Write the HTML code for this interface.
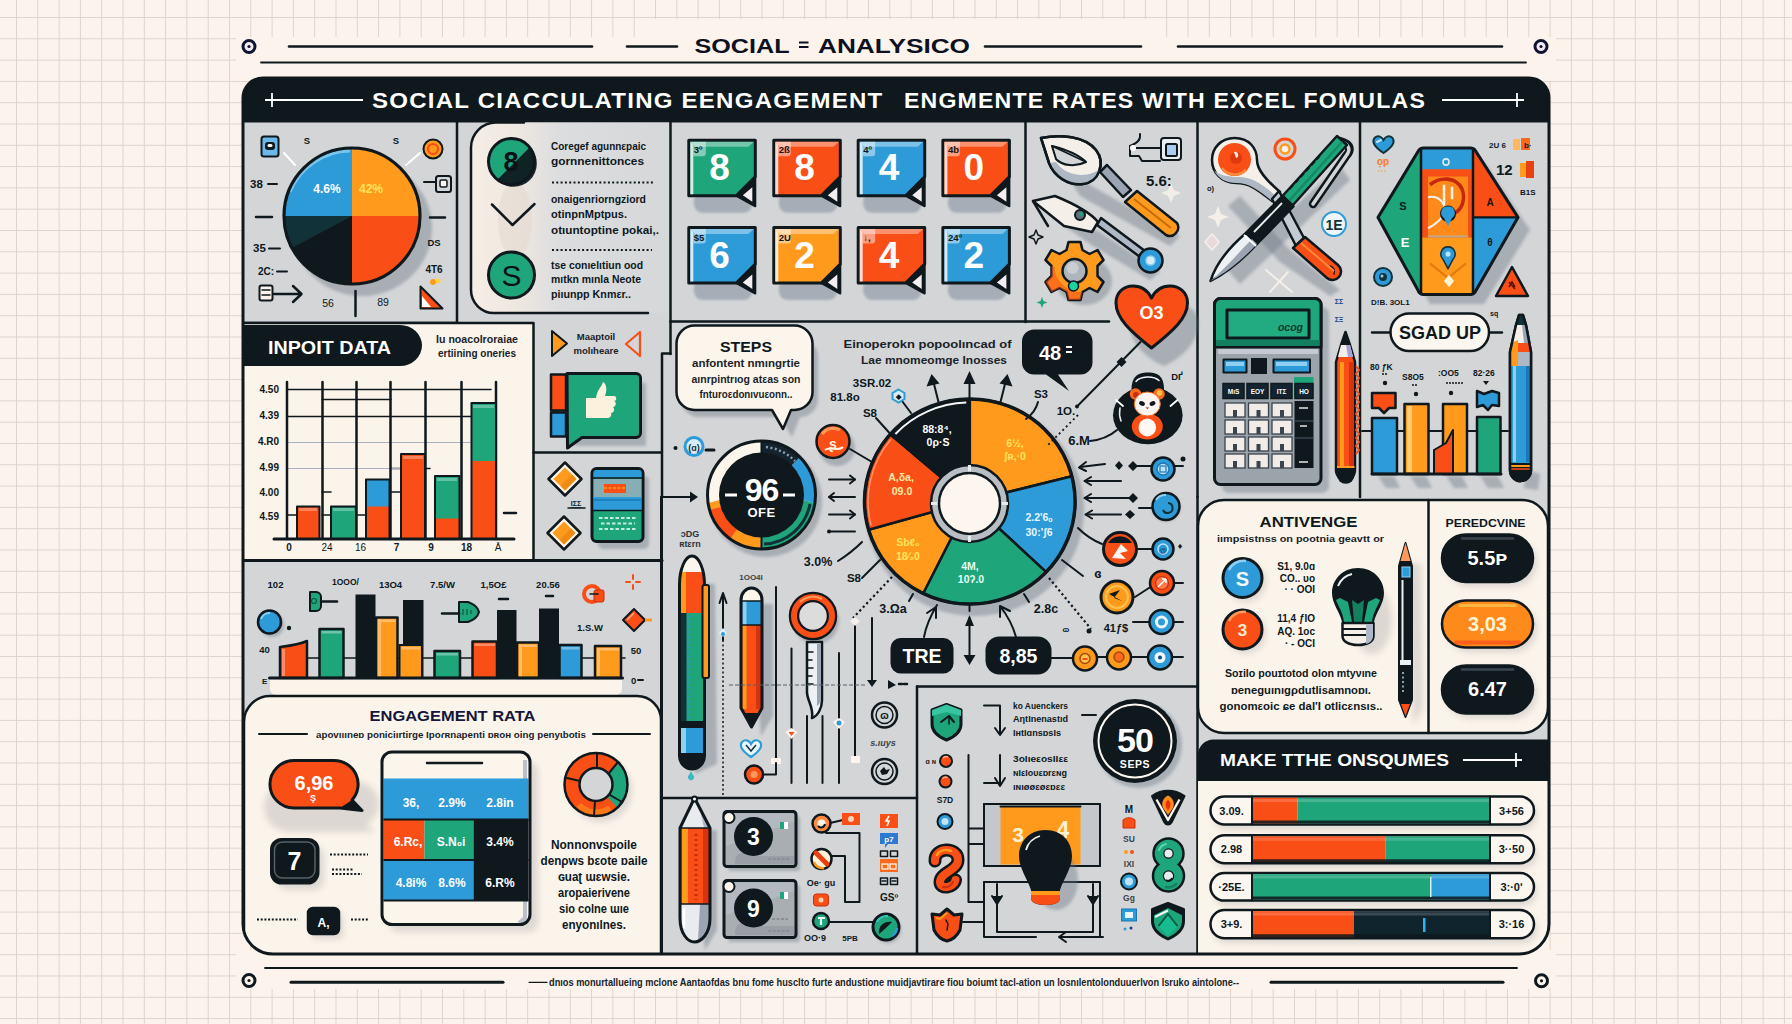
<!DOCTYPE html>
<html lang="en"><head><meta charset="utf-8"><title>Social Analysis - Engagement Rates</title>
<style>
html,body{margin:0;padding:0;background:#fcf4ec;overflow:hidden}
svg{display:block}
text{font-family:"Liberation Sans",sans-serif;fill:#0e181d}
.b{font-weight:700}
.w{fill:#fff}
.m{text-anchor:middle}
.e{text-anchor:end}
.k{stroke:#0e181d;stroke-width:2.5;fill:none;stroke-linecap:round;stroke-linejoin:round}
.k2{stroke:#0e181d;stroke-width:2;fill:none;stroke-linecap:round;stroke-linejoin:round}
.k3{stroke:#0e181d;stroke-width:3;fill:none;stroke-linecap:round;stroke-linejoin:round}
.k15{stroke:#0e181d;stroke-width:1.5;fill:none;stroke-linecap:round;stroke-linejoin:round}
.o{stroke:#0e181d;stroke-width:2.5;stroke-linejoin:round}
.o3{stroke:#0e181d;stroke-width:3;stroke-linejoin:round}
.o2{stroke:#0e181d;stroke-width:2;stroke-linejoin:round}
.sh{fill:#6b7480;opacity:.4}
.shc{fill:#7d7f88;opacity:.24}
.t{font-size:10.5px;font-weight:700;fill:#1a2329}
</style></head><body>
<svg width="1792" height="1024" viewBox="0 0 1792 1024">
<defs>
<pattern id="grid" x="16" y="17" width="21.3" height="21.3" patternUnits="userSpaceOnUse">
<path d="M0.5 0V21.3M0 0.5H21.3" stroke="#dfd2ca" stroke-width="1" fill="none"/>
</pattern>
<filter id="ds" x="-20%" y="-20%" width="150%" height="150%"><feGaussianBlur stdDeviation="1.7"/></filter>
<filter id="ds1" x="-20%" y="-20%" width="150%" height="150%"><feGaussianBlur stdDeviation="1.1"/></filter>
<filter id="ds3" x="-30%" y="-30%" width="170%" height="170%"><feGaussianBlur stdDeviation="3.2"/></filter>
<linearGradient id="listg" x1="0" y1="0" x2="1" y2="0"><stop offset="0" stop-color="#f6eee5"/><stop offset=".22" stop-color="#efe8e1"/><stop offset=".45" stop-color="#dcdddf"/><stop offset="1" stop-color="#d5d7d9"/></linearGradient>
<clipPath id="mainclip"><path d="M243 98a20 20 0 0 1 20-20H1529a20 20 0 0 1 20 20V924a30 30 0 0 1-30 30H273a30 30 0 0 1-30-30Z"/></clipPath>
</defs>
<rect width="1792" height="1024" fill="#fcf4ec"/>
<rect width="1792" height="1024" fill="url(#grid)"/>
<!-- top decoration -->
<rect x="236" y="37" width="1320" height="44" fill="#fcf4ec"/><rect x="640" y="19" width="520" height="20" fill="#fcf4ec"/><rect x="236" y="950" width="1320" height="39" fill="#fcf4ec"/>
<g class="k">
<path d="M289 46.5H592" stroke-width="2.6"/><path d="M627 46.5H677" stroke-width="2.6"/>
<path d="M985 46.5H1141" stroke-width="2.6"/><path d="M1178 46.5H1502" stroke-width="2.6"/>
<path d="M261 62.5H1526" stroke-width="1.8"/>
</g>
<circle cx="249" cy="46.5" r="6" fill="#f3e9f3" stroke="#0e1430" stroke-width="3"/><circle cx="249" cy="46.5" r="1.6" fill="#0e1430"/>
<circle cx="1541" cy="46.5" r="6" fill="#f3e9f3" stroke="#0e1430" stroke-width="3"/><circle cx="1541" cy="46.5" r="1.6" fill="#0e1430"/>
<text x="694.500" y="53" class="b" font-size="20.500" textLength="95" lengthAdjust="spacingAndGlyphs" style="fill:#0d1020">SOCIAL</text><path d="M799 42.500H808.500M799 47H808.500" stroke="#0d1020" stroke-width="2.200"/><text x="818" y="53" class="b" font-size="20.500" textLength="152" lengthAdjust="spacingAndGlyphs" style="fill:#0d1020">ANALYSICO</text>
<!-- main panel -->
<path d="M243 98a20 20 0 0 1 20-20H1529a20 20 0 0 1 20 20V924a30 30 0 0 1-30 30H273a30 30 0 0 1-30-30Z" fill="#d3d5d7"/>
<path d="M243 122.5V98a20 20 0 0 1 20-20H1529a20 20 0 0 1 20 20V122.5Z" fill="#0e181d"/>
<g stroke="#fff" stroke-width="1.8" fill="none"><path d="M265 100H363"/><path d="M272 93V107"/><path d="M1442 100H1524"/><path d="M1517 93V107"/></g>
<text x="372" y="108" class="b w" font-size="21.5" letter-spacing="1.1" textLength="511.5" lengthAdjust="spacingAndGlyphs">SOCIAL CIACCULATING EENGAGEMENT</text>
<text x="904" y="108" class="b w" font-size="21.5" letter-spacing="1.1" textLength="522" lengthAdjust="spacingAndGlyphs">ENGMENTE RATES WITH EXCEL FOMULAS</text>
<g clip-path="url(#mainclip)">
<!-- ===== Section A: pie ===== -->
<ellipse cx="362" cy="228" rx="70" ry="68" class="sh" filter="url(#ds)"/>
<g>
<path d="M352 216V148A68 68 0 0 0 284 216Z" fill="#2d9bd8"/>
<path d="M352 216V148A68 68 0 0 1 420 216Z" fill="#ff9a1c"/>
<path d="M352 216H420A68 68 0 0 1 352 284Z" fill="#fa4e17"/>
<path d="M352 216H284A68 68 0 0 0 352 284Z" fill="#0e181d"/>
<path d="M352 216H284A68 68 0 0 0 292 248Z" fill="#12323a"/>
<path d="M290 192A66 66 0 0 1 350 151" stroke="#8fd0f2" stroke-width="3" fill="none" opacity=".8"/>
<circle cx="352" cy="216" r="68" fill="none" stroke="#0e181d" stroke-width="3.2"/>
</g>
<text x="327" y="193" class="b w m" font-size="12">4.6%</text>
<text x="371" y="193" class="b m" font-size="12" style="fill:#ffe45c">42%</text>
<text x="307" y="144" class="b m" font-size="9.5">S</text><text x="396" y="144" class="b m" font-size="9.5">S</text>
<rect x="261.500" y="136.500" width="17" height="20" rx="2.500" fill="#6db8ea" class="o2"/><rect x="265" y="142" width="10" height="8" rx="3" fill="#0e181d"/><rect x="267.500" y="144" width="5" height="3" rx="1.500" fill="#fff"/>
<path d="M284 153L295 165M406 165L420 153" stroke="#fff" stroke-width="2" fill="none" stroke-linecap="round"/>
<circle cx="433" cy="149" r="9.500" fill="#ff9a1c" class="o2"/><circle cx="433" cy="149" r="5" fill="none" stroke="#fa4e17" stroke-width="2.200"/>
<text x="250" y="188" class="b" font-size="11.500">38</text><path d="M268 184H277" class="k2"/>
<path d="M256 217H272M430 217.500H445" class="k"/>
<path d="M424 182H437" class="k2"/><rect x="436" y="176" width="15" height="16" rx="2.500" fill="#d3d5d7" class="o2"/><rect x="440" y="180" width="7" height="7" rx="1.500" fill="#fcf4ec" stroke="#0e181d" stroke-width="1.500"/>
<text x="253" y="252" class="b" font-size="11.500">35</text><path d="M269 248.500H280" class="k2"/>
<text x="258" y="275" class="b" font-size="10">2C:</text><path d="M277 271.500H287" class="k2"/>
<text x="434" y="246" class="b m" font-size="9.500">DS</text><text x="434" y="273" class="b m" font-size="10">4T6</text>
<circle cx="433" cy="282" r="3" fill="#ff9a1c"/><circle cx="438" cy="281" r="2.500" fill="#ffd23e"/>
<path d="M420.500 286.500V308.500H442.500Z" fill="#fa4e17" class="o2"/><path d="M422 296V307H431Z" fill="#fff"/>
<text x="328" y="307" class="m b" font-size="10.500" style="font-weight:400">56</text><text x="383" y="306" class="m b" font-size="10.500" style="font-weight:400">89</text>
<path d="M355.500 291V316" class="k"/>
<rect x="259.500" y="285.500" width="13" height="15" rx="2" fill="#fcf4ec" class="o2"/><path d="M262 290H270M262 295H270" class="k15"/>
<path d="M274 294H301M293 286L301.500 294L293 302" class="k"/>
<!-- dividers top row -->
<g class="k"><path d="M457 122V322"/><path d="M243 323H457"/><path d="M670.500 122V354"/><path d="M1025.500 122V322"/><path d="M1197.500 122V497"/><path d="M1360 122V497"/><path d="M670.500 321.500H1109"/></g>
<!-- ===== Section B: list ===== -->
<path d="M669 122.500H496a25 25 0 0 0-25 25V290a23 23 0 0 0 23 23H669Z" fill="url(#listg)"/>
<path d="M524 122.500H496a25 25 0 0 0-25 25V290a23 23 0 0 0 23 23H648" class="k"/>
<ellipse cx="515" cy="220" rx="17" ry="38" fill="#e6dcd3" opacity=".7"/>
<circle cx="511.500" cy="161.500" r="23" fill="#1fa57a" class="o3"/>
<path d="M530 147A23 23 0 0 1 497 180Z" fill="#0e181d" opacity=".92"/>
<text x="511" y="171" class="b m" font-size="27" style="fill:#0a1216">8</text>
<path d="M492 204.500L512.500 225L534.500 204" class="k"/>
<circle cx="511.500" cy="275" r="23" fill="#1fa57a" class="o3"/>
<text x="511.500" y="286" class="b m" font-size="30" style="fill:#0a1216;font-weight:400">S</text>
<g class="t">
<text x="551" y="150" textLength="95" lengthAdjust="spacingAndGlyphs">Coregef agunnεpaic</text>
<text x="551" y="165" textLength="93" lengthAdjust="spacingAndGlyphs">gornnenittonces</text>
<text x="551" y="202.500" textLength="95" lengthAdjust="spacingAndGlyphs">onaigenriorngziord</text>
<text x="551" y="218" textLength="76" lengthAdjust="spacingAndGlyphs">otinpnМptpus.</text>
<text x="551" y="233.500" textLength="108" lengthAdjust="spacingAndGlyphs">otιuntoptine pokai,.</text>
<text x="551" y="268.500" textLength="92" lengthAdjust="spacingAndGlyphs">tse conıelιtiun ood</text>
<text x="551" y="283" textLength="90" lengthAdjust="spacingAndGlyphs">mıtkn mınla Neote</text>
<text x="551" y="298" textLength="80" lengthAdjust="spacingAndGlyphs">piıunpp Knmεr..</text>
</g>
<path d="M552 182.500H654M552 250H652" stroke="#0e181d" stroke-width="2.200" stroke-dasharray="2 2.300" fill="none"/>
</g>
<g clip-path="url(#mainclip)">
<!-- ===== Section C: tiles ===== -->
<rect x="693.8" y="191.8" width="58.5" height="21" rx="9" fill="#8d96a3" opacity=".62" filter="url(#ds1)"/>
<g transform="translate(688.8 140.2)"><path d="M0 0H66.5V36.6L47.5 55.6H0Z" fill="#1fa57a" class="o3"/><path d="M1.5 1.5H65.0L59.5 6.5H6.5Z" fill="#fff" opacity=".38"/><path d="M1.5 1.5V54.1H4.5V4.5Z" fill="#fff" opacity=".8"/><path d="M1.5 1.5H17V13a3 3 0 0 1-3 3H4.5V4.5Z" fill="#fff" opacity=".45"/><path d="M47.5 55.6L66.5 36.6V66.1Z" fill="#0e181d" class="o2"/><path d="M54.0 55.1L63.5 47.1V61.6Z" fill="#f4eef0"/><text x="30.8" y="40.3" class="b w m" font-size="37">8</text><text x="5" y="13" class="b" font-size="9.5">3º</text></g>
<rect x="778.8" y="191.8" width="58.5" height="21" rx="9" fill="#8d96a3" opacity=".62" filter="url(#ds1)"/>
<g transform="translate(773.8 140.2)"><path d="M0 0H66.5V36.6L47.5 55.6H0Z" fill="#fa4e17" class="o3"/><path d="M1.5 1.5H65.0L59.5 6.5H6.5Z" fill="#fff" opacity=".38"/><path d="M1.5 1.5V54.1H4.5V4.5Z" fill="#fff" opacity=".8"/><path d="M1.5 1.5H17V13a3 3 0 0 1-3 3H4.5V4.5Z" fill="#fff" opacity=".45"/><path d="M47.5 55.6L66.5 36.6V66.1Z" fill="#0e181d" class="o2"/><path d="M54.0 55.1L63.5 47.1V61.6Z" fill="#f4eef0"/><text x="30.8" y="40.3" class="b w m" font-size="37">8</text><text x="5" y="13" class="b" font-size="9.5">2ß</text></g>
<rect x="863.2" y="191.8" width="58.5" height="21" rx="9" fill="#8d96a3" opacity=".62" filter="url(#ds1)"/>
<g transform="translate(858.2 140.2)"><path d="M0 0H66.5V36.6L47.5 55.6H0Z" fill="#2d9bd8" class="o3"/><path d="M1.5 1.5H65.0L59.5 6.5H6.5Z" fill="#fff" opacity=".38"/><path d="M1.5 1.5V54.1H4.5V4.5Z" fill="#fff" opacity=".8"/><path d="M1.5 1.5H17V13a3 3 0 0 1-3 3H4.5V4.5Z" fill="#fff" opacity=".45"/><path d="M47.5 55.6L66.5 36.6V66.1Z" fill="#0e181d" class="o2"/><path d="M54.0 55.1L63.5 47.1V61.6Z" fill="#f4eef0"/><text x="30.8" y="40.3" class="b w m" font-size="37">4</text><text x="5" y="13" class="b" font-size="9.5">4º</text></g>
<rect x="947.9" y="191.8" width="58.5" height="21" rx="9" fill="#8d96a3" opacity=".62" filter="url(#ds1)"/>
<g transform="translate(942.9 140.2)"><path d="M0 0H66.5V36.6L47.5 55.6H0Z" fill="#fa4e17" class="o3"/><path d="M1.5 1.5H65.0L59.5 6.5H6.5Z" fill="#fff" opacity=".38"/><path d="M1.5 1.5V54.1H4.5V4.5Z" fill="#fff" opacity=".8"/><path d="M1.5 1.5H17V13a3 3 0 0 1-3 3H4.5V4.5Z" fill="#fff" opacity=".45"/><path d="M47.5 55.6L66.5 36.6V66.1Z" fill="#0e181d" class="o2"/><path d="M54.0 55.1L63.5 47.1V61.6Z" fill="#f4eef0"/><text x="30.8" y="40.3" class="b w m" font-size="37">0</text><text x="5" y="13" class="b" font-size="9.5">4b</text></g>
<rect x="693.8" y="279.1" width="58.5" height="21" rx="9" fill="#8d96a3" opacity=".62" filter="url(#ds1)"/>
<g transform="translate(688.8 227.5)"><path d="M0 0H66.5V36.6L47.5 55.6H0Z" fill="#2d9bd8" class="o3"/><path d="M1.5 1.5H65.0L59.5 6.5H6.5Z" fill="#fff" opacity=".38"/><path d="M1.5 1.5V54.1H4.5V4.5Z" fill="#fff" opacity=".8"/><path d="M1.5 1.5H17V13a3 3 0 0 1-3 3H4.5V4.5Z" fill="#fff" opacity=".45"/><path d="M47.5 55.6L66.5 36.6V66.1Z" fill="#0e181d" class="o2"/><path d="M54.0 55.1L63.5 47.1V61.6Z" fill="#f4eef0"/><text x="30.8" y="40.3" class="b w m" font-size="37">6</text><text x="5" y="13" class="b" font-size="9.5">$5</text></g>
<rect x="778.8" y="279.1" width="58.5" height="21" rx="9" fill="#8d96a3" opacity=".62" filter="url(#ds1)"/>
<g transform="translate(773.8 227.5)"><path d="M0 0H66.5V36.6L47.5 55.6H0Z" fill="#ff9a1c" class="o3"/><path d="M1.5 1.5H65.0L59.5 6.5H6.5Z" fill="#fff" opacity=".38"/><path d="M1.5 1.5V54.1H4.5V4.5Z" fill="#fff" opacity=".8"/><path d="M1.5 1.5H17V13a3 3 0 0 1-3 3H4.5V4.5Z" fill="#fff" opacity=".45"/><path d="M47.5 55.6L66.5 36.6V66.1Z" fill="#0e181d" class="o2"/><path d="M54.0 55.1L63.5 47.1V61.6Z" fill="#f4eef0"/><text x="30.8" y="40.3" class="b w m" font-size="37">2</text><text x="5" y="13" class="b" font-size="9.5">2U</text></g>
<rect x="863.2" y="279.1" width="58.5" height="21" rx="9" fill="#8d96a3" opacity=".62" filter="url(#ds1)"/>
<g transform="translate(858.2 227.5)"><path d="M0 0H66.5V36.6L47.5 55.6H0Z" fill="#fa4e17" class="o3"/><path d="M1.5 1.5H65.0L59.5 6.5H6.5Z" fill="#fff" opacity=".38"/><path d="M1.5 1.5V54.1H4.5V4.5Z" fill="#fff" opacity=".8"/><path d="M1.5 1.5H17V13a3 3 0 0 1-3 3H4.5V4.5Z" fill="#fff" opacity=".45"/><path d="M47.5 55.6L66.5 36.6V66.1Z" fill="#0e181d" class="o2"/><path d="M54.0 55.1L63.5 47.1V61.6Z" fill="#f4eef0"/><text x="30.8" y="40.3" class="b w m" font-size="37">4</text><text x="5" y="13" class="b" font-size="9.5">&#8595;,</text></g>
<rect x="947.9" y="279.1" width="58.5" height="21" rx="9" fill="#8d96a3" opacity=".62" filter="url(#ds1)"/>
<g transform="translate(942.9 227.5)"><path d="M0 0H66.5V36.6L47.5 55.6H0Z" fill="#2d9bd8" class="o3"/><path d="M1.5 1.5H65.0L59.5 6.5H6.5Z" fill="#fff" opacity=".38"/><path d="M1.5 1.5V54.1H4.5V4.5Z" fill="#fff" opacity=".8"/><path d="M1.5 1.5H17V13a3 3 0 0 1-3 3H4.5V4.5Z" fill="#fff" opacity=".45"/><path d="M47.5 55.6L66.5 36.6V66.1Z" fill="#0e181d" class="o2"/><path d="M54.0 55.1L63.5 47.1V61.6Z" fill="#f4eef0"/><text x="30.8" y="40.3" class="b w m" font-size="37">2</text><text x="5" y="13" class="b" font-size="9.5">24º</text></g>
</g>
<g clip-path="url(#mainclip)">
<!-- ===== Section D: tools ===== -->
<!-- shadows -->
<path d="M1052 150L1090 185L1180 236L1170 246L1080 196Z" class="sh" filter="url(#ds)"/>
<path d="M1040 208L1100 232L1160 272L1150 280L1090 244Z" class="sh" filter="url(#ds)"/>
<ellipse cx="1084" cy="281" rx="28" ry="24" class="sh" filter="url(#ds)"/>
<!-- pen tool 1 -->
<path d="M1100 172L1107 165L1131 190L1123 197Z" fill="#9aa4b2" class="o"/>
<path d="M1125 202L1137 191L1177 223A8.500 8.500 0 0 1 1166 235Z" fill="#ff9a1c" class="o"/>
<path d="M1134 199L1171 228" stroke="#c9690c" stroke-width="2" fill="none"/>
<path d="M1041 138C1060 134 1085 136 1096 150C1106 163 1099 182 1083 184C1068 186 1054 176 1049 163Z" fill="#f4efe9" class="o"/>
<path d="M1049 163C1054 176 1068 186 1083 184C1093 183 1099 176 1100 168C1092 178 1066 178 1056 162Z" fill="#aeb7c4"/>
<path d="M1041 138C1060 134 1085 136 1096 150C1106 163 1099 182 1083 184C1068 186 1054 176 1049 163Z" class="k"/>
<path d="M1052 146C1064 149 1078 154 1086 162C1076 167 1062 166 1056 159Z" fill="#d3d5d7" class="o2"/>
<path d="M1052 146L1086 162" class="k15"/>
<!-- knife tool 2 -->
<path d="M1097 225L1101 218L1145 251L1140 257Z" fill="#aeb7c4" class="o"/>
<path d="M1033 201L1055 196C1072 203 1090 212 1098 222L1092 232L1064 226Z" fill="#f4efe9" class="o"/>
<path d="M1033 201L1048 226" class="k"/>
<circle cx="1080" cy="215" r="5" fill="#5c6f7b" class="o2"/><circle cx="1081" cy="214" r="2" fill="#1fa57a"/>
<circle cx="1150.500" cy="260.500" r="12" fill="#2d9bd8" class="o"/><circle cx="1150.500" cy="260.500" r="4.500" fill="#d8ecf8" stroke="#8fd0f2" stroke-width="1.500"/>
<!-- gear -->
<g transform="translate(1074.500 271)">
<path d="M-6-29H6L8-21L15-17L23-21L29-11L23-5V5L29 11L23 21L15 17L8 21L6 29H-6L-8 21L-15 17L-23 21L-29 11L-23 5V-5L-29-11L-23-21L-15-17L-8-21Z" fill="#ff9a1c" class="o"/>
<path d="M-23-5V5L-29 11L-23 21L-15 17L-8 21L-6 29H6L8 21C-6 22-20 10-20-4Z" fill="#fa4e17" opacity=".55"/>
<circle r="12" fill="#aeb5bb" class="o"/><circle cx="-2" cy="-3" r="6" fill="#c9ced2"/>
<circle cx="-1" cy="15" r="5" fill="#1fd3a0" stroke="#0e181d" stroke-width="1.500"/>
</g>
<path d="M1036 230l2 5l5 2l-5 2l-2 5l-2-5l-5-2l5-2Z" fill="#d3d5d7" class="k15"/>
<path d="M1042 297l1.500 4l4 1.500l-4 1.500l-1.500 4l-1.500-4l-4-1.500l4-1.500Z" fill="#1fa57a"/>
<path d="M1171 183l3 7l7 3l-7 3l-3 7l-3-7l-7-3l7-3Z" fill="#f4efe9" opacity=".9"/>
<!-- small icon top -->
<path d="M1140 134C1141 142 1134 144 1130 146V156H1139L1142 161H1160M1135 148H1160" class="k2"/>
<circle cx="1133" cy="148" r="3" fill="#fff"/>
<rect x="1161" y="138" width="20" height="22" rx="3" fill="#e9eef4" class="o2"/><rect x="1166" y="144" width="11" height="12" rx="1.500" fill="#a9cdf0" class="o2"/>
<text x="1146" y="186" class="b" font-size="15">5.6:</text>
<!-- heart -->
<path d="M1156 356C1200 336 1196 296 1176 297C1166 297 1160 304 1156 312C1152 304 1144 297 1134 298C1112 300 1118 340 1156 356Z" class="sh" filter="url(#ds)" transform="translate(8 10)"/>
<path d="M1151.500 348C1130 331 1116 318 1116 303C1116 292 1124 286 1133 286C1142 286 1148 291 1151.500 298C1155 291 1161 286 1170 286C1179 286 1187.500 292 1187.500 303C1187.500 318 1173 331 1151.500 348Z" fill="#fa4e17" class="o3"/>
<text x="1151.500" y="319" class="b w m" font-size="18">O3</text>
<!-- ===== Section E: crossing pens ===== -->
<path d="M1226 268L1340 166L1350 180L1240 284Z" class="sh" filter="url(#ds)"/>
<path d="M1240 196L1290 250L1340 290L1330 296L1280 262L1228 206Z" class="sh" filter="url(#ds)"/>
<!-- opener tool (red circle) -->
<path d="M1234.500 138C1249 138 1257 148 1257 160C1257 170 1266 180 1280 192L1272 201C1258 190 1250 183 1236 183C1221 183 1212 172 1212 160C1212 148 1221 138 1234.500 138Z" fill="#f4efe9" class="o"/>
<path d="M1214 170C1218 179 1227 183 1236 183C1250 183 1258 190 1272 201L1276 196C1262 184 1252 177 1238 177C1228 177 1218 175 1214 170Z" fill="#aeb7c4"/>
<circle cx="1234.500" cy="159.500" r="16.500" fill="#fa4e17"/><circle cx="1236" cy="158" r="6" fill="#e0380f"/><path d="M1234 152a3 3 0 1 1 2 6z" fill="#ffe9dc"/><path d="M1222 168A16 16 0 0 0 1246 170" stroke="#ff8a3c" stroke-width="2.500" fill="none"/>
<path d="M1272 199L1279 191L1304 238L1296 246Z" fill="#c4cad2" class="o"/>
<path d="M1293 248L1305 237L1338 265A8.500 8.500 0 0 1 1327 278Z" fill="#fa4e17" class="o"/>
<path d="M1330 266A6 6 0 0 1 1334 274" class="k15"/><path d="M1301 243L1334 271" stroke="#ff8a3c" stroke-width="2" fill="none"/>
<!-- pen green -->
<path d="M1340 141C1352 144 1351 151 1346 156L1313 204" stroke="#0e181d" stroke-width="8.500" stroke-linecap="round" fill="none"/><path d="M1341 142C1351 145 1350 151 1346 156L1313 204" stroke="#d3d5d7" stroke-width="3.500" stroke-linecap="round" fill="none"/>
<path d="M1282.500 196L1337 136L1347 145L1292.500 205.500Z" fill="#1fa57a" class="o"/>
<path d="M1289 201L1342 142" stroke="#128a63" stroke-width="2.500" fill="none"/><path d="M1290 189L1320 156" stroke="#0e181d" stroke-width="1.500" stroke-dasharray="5 3" fill="none"/>
<path d="M1246 233L1282.500 196L1293.500 206.500L1257 244Z" fill="#0e181d" class="o"/><path d="M1254 232L1282 203" stroke="#e9ecef" stroke-width="1.800" fill="none"/>
<path d="M1210.500 281C1216 263 1232 245 1246 233L1257 244C1245 257 1228 272 1210.500 281Z" fill="#eef1f3" class="o"/>
<path d="M1210.500 281C1228 272 1245 257 1257 244L1252 239C1240 251 1226 268 1210.500 281Z" fill="#9aa4b2"/>
<path d="M1244 235L1256 246" stroke="#fff" stroke-width="2"/>
<circle cx="1285" cy="149" r="10" fill="none" stroke="#fa4e17" stroke-width="3"/><circle cx="1285" cy="149" r="4.500" fill="#fcf4ec" stroke="#ff9a1c" stroke-width="2.500"/>
<circle cx="1334" cy="224" r="12" fill="#eef6fb" stroke="#2d9bd8" stroke-width="2"/><text x="1334" y="230" class="b m" font-size="14" style="fill:#12323a">1E</text>
<text x="1207" y="191" class="b" font-size="7.500">o)</text>
<path d="M1218 206l3 8l8 3l-8 3l-3 8l-3-8l-8-3l8-3Z" fill="#f4efe9"/>
<path d="M1212 234l7 8l-7 8l-7-8Z" fill="#ead9dc" stroke="#f4efe9" stroke-width="1.500"/>
<path d="M1266 270L1292 292M1288 272L1270 292" stroke="#f4efe9" stroke-width="2" fill="none" stroke-linecap="round"/>
<!-- calculator -->
<rect x="1222" y="307" width="107" height="186" rx="7" class="sh" filter="url(#ds)"/>
<rect x="1214.500" y="298.500" width="106.500" height="186" rx="6" fill="#9ba3ab" class="o3"/>
<path d="M1214.500 347V304.500a6 6 0 0 1 6-6H1315a6 6 0 0 1 6 6V347Z" fill="#1fa57a" class="o3"/>
<path d="M1216 340H1319.500V346H1216Z" fill="#12805e"/>
<rect x="1227" y="310" width="82" height="28" fill="#22ab80" class="o3"/>
<text x="1303" y="331" class="b e" font-size="10.500" style="font-style:italic;fill:#0c3a2c">ocog</text>
<path d="M1218 349H1318V354H1218Z" fill="#c5cad0"/>
<rect x="1223.500" y="359.500" width="23" height="13" fill="#2d9bd8" class="o2"/><rect x="1226" y="362" width="18" height="4" fill="#8fd0f2"/>
<rect x="1251" y="358" width="16" height="16" fill="#0e181d"/>
<rect x="1273.500" y="359.500" width="36.500" height="13" fill="#2d9bd8" class="o2"/><rect x="1276" y="362" width="31" height="4" fill="#8fd0f2"/>
<path d="M1294 377h19.500V398H1294Z" fill="#1fa57a"/>
<g fill="#142330" stroke="#0e181d" stroke-width="1.500"><rect x="1223" y="383.500" width="21" height="15"/><rect x="1247" y="383.500" width="21" height="15"/><rect x="1271" y="383.500" width="21" height="15"/><rect x="1295" y="383.500" width="18" height="15"/></g>
<g font-size="6.500"><text x="1233.500" y="394" class="b w m">MıS</text><text x="1257.500" y="394" class="b w m">EOY</text><text x="1281.500" y="394" class="b w m">ITΣ</text><text x="1304" y="394" class="b w m">HO</text></g>
<rect x="1294.500" y="401" width="19" height="67" fill="#0e181d"/>
<path d="M1294.500 421H1313M1294.500 438H1313" stroke="#3a4650" stroke-width="1.500"/>
<g stroke="#e9e6e2" stroke-width="1.500"><path d="M1299 408H1308M1300 426H1307M1299 462H1308"/></g>
<g fill="#f1ece8" stroke="#3b444c" stroke-width="1.300">
<rect x="1225" y="403" width="20" height="14"/><rect x="1248.500" y="403" width="20" height="14"/><rect x="1272" y="403" width="20" height="14"/>
<rect x="1225" y="420" width="20" height="14"/><rect x="1248.500" y="420" width="20" height="14"/><rect x="1272" y="420" width="20" height="14"/>
<rect x="1225" y="437" width="20" height="14"/><rect x="1248.500" y="437" width="20" height="14"/><rect x="1272" y="437" width="20" height="14"/>
<rect x="1225" y="454" width="20" height="14"/><rect x="1248.500" y="454" width="20" height="14"/><rect x="1272" y="454" width="20" height="14"/>
</g>
<g fill="#3b444c"><rect x="1233" y="410" width="4" height="7"/><rect x="1256.500" y="410" width="4" height="7"/><rect x="1280" y="410" width="4" height="7"/><rect x="1233" y="427" width="4" height="7"/><rect x="1256.500" y="427" width="4" height="7"/><rect x="1280" y="427" width="4" height="7"/><rect x="1233" y="444" width="4" height="7"/><rect x="1256.500" y="444" width="4" height="7"/><rect x="1280" y="444" width="4" height="7"/><rect x="1233" y="461" width="4" height="7"/><rect x="1256.500" y="461" width="4" height="7"/><rect x="1280" y="461" width="4" height="7"/></g>
<text x="1339" y="304" class="b m" font-size="7" style="fill:#1b3c8c">ΣΣ</text><text x="1339" y="322" class="b m" font-size="7" style="fill:#1b3c8c">ΣΞ</text>
<!-- red pencil -->
<path d="M1341 345L1345.500 332L1350 345L1355 362V470a9.500 10 0 0 1-19 0V362Z" fill="#fa4e17" class="o"/>
<path d="M1341 345L1345.500 332L1350 345Z" fill="#0e181d"/>
<path d="M1341 345H1350L1353 357H1338Z" fill="#f4efe9"/><path d="M1346 345H1350L1353 357H1348Z" fill="#a7a3d8"/>
<path d="M1340 362V466H1344V362Z" fill="#ff9a1c"/><path d="M1349 362V466H1354V362Z" fill="#d8320f"/>
<path d="M1337 467H1354.500V475A8 8 0 0 1 1337 475Z" fill="#0e181d"/><path d="M1337 467H1354.500" stroke="#ff9a1c" stroke-width="2"/>
<path d="M1356 366l3 4l-3 4l3 4l-3 4l3 4l-3 4l3 4l-3 4l3 4l-3 4l3 4l-3 4l3 4l-3 4l3 4l-3 4l3 4l-3 4l3 4l-3 4l3 4l-3 4" stroke="#fa4e17" stroke-width="2" fill="none"/>
</g>
<g clip-path="url(#mainclip)">
<!-- ===== Section F: hexagon ===== -->
<path d="M1388 228L1430 162H1484L1530 230L1484 304H1430Z" class="sh" filter="url(#ds)"/>
<g transform="translate(0 221.250) scale(1 1.035) translate(0 -221.250)"><path d="M1378 217.500L1421 152V291Z" fill="#1fa57a"/>
<path d="M1473 152L1518 217.500H1473Z" fill="#fa4e17"/>
<path d="M1473 217.500H1518L1473 291Z" fill="#2d9bd8"/>
<rect x="1421" y="150.500" width="52" height="21" fill="#2d9bd8"/>
<rect x="1421" y="171" width="52" height="67" fill="#fa4e17"/>
<rect x="1421" y="237" width="52" height="55" fill="#ff9a1c"/>
<path d="M1428 178H1468V236H1428Z" fill="#ff8a1a"/>
<path d="M1430 186C1440 178 1456 178 1462 190C1466 200 1462 210 1454 214" stroke="#c9260e" stroke-width="3.500" fill="none"/>
<path d="M1444 186V206M1452 188V200" stroke="#f4efe9" stroke-width="2.500" fill="none"/>
<path d="M1428 198C1438 196 1444 202 1446 212C1440 222 1432 226 1428 228" stroke="#f4efe9" stroke-width="2" fill="none"/>
<circle cx="1448" cy="214" r="8" fill="#0e181d"/><path d="M1448 207a6 6 0 0 1 4 11l-4 8l-4-8a6 6 0 0 1 4-11Z" fill="#2d9bd8"/>
<path d="M1428 236H1468" stroke="#bfa98a" stroke-width="2"/>
<path d="M1448 246a7 7 0 0 1 5 12l-5 9l-5-9a7 7 0 0 1 5-12Z" fill="#2d9bd8" stroke="#12323a" stroke-width="1.500"/><circle cx="1448" cy="253" r="2.500" fill="#bfe3f6"/>
<path d="M1430 262L1448 276L1466 262" stroke="#e0790e" stroke-width="2" fill="none"/>
<path d="M1449 273l5 6l-5 6l-5-6Z" fill="#fff3d6"/>
<circle cx="1446" cy="164" r="3" fill="none" stroke="#d8ecf8" stroke-width="1.600"/>
<path d="M1421 152V291M1473 152V291" class="k"/><path d="M1473 217.500H1518" class="k2"/>
<path d="M1378 217.500L1418 154a6 6 0 0 1 5-3.500H1471a6 6 0 0 1 5 3.500L1518 217.500L1476 288a6 6 0 0 1-5 4H1423a6 6 0 0 1-5-4Z" class="k3"/>
</g>
<text x="1403" y="210" class="b m" font-size="11">S</text><text x="1405" y="247" class="b w m" font-size="13">E</text>
<text x="1490" y="206" class="b m" font-size="10">A</text><text x="1490" y="246" class="b m" font-size="10">θ</text>
<path d="M1383.500 153c-9-6-12-11-9-15c3-3 7-2 9 2c2-4 6-5 9-2c3 4 0 9-9 15Z" fill="#2d9bd8" stroke="#12323a" stroke-width="2"/><path d="M1377 142l4-2" stroke="#bfe3f6" stroke-width="2" stroke-linecap="round"/>
<text x="1383" y="165" class="b m" font-size="10" style="fill:#ff7a1c">ọp</text><path d="M1378 171h9" stroke="#ff9a1c" stroke-width="1.200" stroke-dasharray="1.500 1.500"/>
<text x="1489" y="148" class="b" font-size="8">2U 6</text><rect x="1513" y="139" width="7" height="11" fill="#ffb65c"/><rect x="1521" y="138" width="9" height="12" fill="#fa6a1c"/><text x="1524" y="148" class="b" font-size="8">b·</text>
<text x="1496" y="175" class="b" font-size="15">12</text><rect x="1520" y="163" width="8" height="14" fill="#ff9a1c"/><rect x="1526" y="161" width="8" height="17" fill="#e8400f"/>
<text x="1520" y="195" class="b" font-size="8">B1S</text>
<circle cx="1383" cy="277" r="9" fill="#2d9bd8" stroke="#12323a" stroke-width="2"/><circle cx="1383" cy="277" r="4" fill="#12323a"/><circle cx="1382" cy="276" r="1.500" fill="#8fd0f2"/>
<path d="M1512 267L1528 296H1496Z" fill="#fa4e17" class="o"/><path d="M1509 287l3-5l3 5M1509 282l6 7" stroke="#5a1405" stroke-width="1.500" fill="none"/>
<text x="1371" y="305" class="b" font-size="8">D!B. 3OL1</text>
<text x="1490" y="316" class="b" font-size="7">sq</text>
<!-- SGAD UP -->
<path d="M1372 332.500H1391M1489 332.500H1502" class="k"/>
<rect x="1390.500" y="313.500" width="98.500" height="37.500" rx="18.700" fill="#fbf6ef" class="o"/>
<text x="1440" y="339" class="b m" font-size="17.500" textLength="82" lengthAdjust="spacingAndGlyphs">SGAD UP</text>
<!-- bar chart -->
<path d="M1378 476L1386 488H1400L1394 476ZM1410 476L1418 488H1432L1426 476ZM1446 476L1454 488H1468L1462 476ZM1480 476L1488 488H1504L1498 476Z" class="sh" filter="url(#ds)"/>
<path d="M1362 431H1508" class="k2"/>
<rect x="1372" y="418" width="25" height="56" fill="#2d9bd8" class="o"/>
<rect x="1404.500" y="404" width="24" height="70" fill="#ff9a1c" class="o"/><rect x="1407" y="406" width="5" height="66" fill="#ffd889" opacity=".8"/>
<rect x="1443" y="404" width="24" height="70" fill="#ff9a1c" class="o"/>
<path d="M1434 474V450L1446 443L1453 430V474Z" fill="#fa4e17" class="o2"/>
<rect x="1477" y="417" width="23.500" height="57" fill="#1fa57a" class="o"/>
<path d="M1372 474H1501" class="k3"/>
<path d="M1372 393H1395.500V408H1389L1384 413L1379 408H1372Z" fill="#fa4e17" class="o"/>
<path d="M1477 391L1484 394L1492 391L1499 393V406L1492 405L1488 410L1483 405L1477 407Z" fill="#2d9bd8" class="o"/>
<g font-size="8.500"><text x="1370" y="370" class="b">80 ƒK</text><text x="1402" y="380" class="b">S8O5</text><text x="1438" y="376" class="b">:OO5</text><text x="1473" y="376" class="b">82·26</text></g>
<path d="M1382 374h5M1412 385h6M1446 383h18" stroke="#0e181d" stroke-width="1.500" stroke-dasharray="2 1"/>
<circle cx="1385" cy="383" r="2.200" fill="#0e181d"/><circle cx="1416" cy="394" r="2.200" fill="#0e181d"/><circle cx="1451" cy="393" r="2.200" fill="#0e181d"/><path d="M1483 381h6l-3 4Z" fill="#0e181d"/>
<!-- blue pen -->
<path d="M1526 470L1540 474L1538 490L1524 488Z" class="sh" filter="url(#ds)"/>
<path d="M1516 325L1519 315H1523L1526 325L1531 352V470a10.500 11 0 0 1-21 0V352Z" fill="#2d9bd8" class="o"/>
<path d="M1516 325L1519 315H1523L1526 325Z" fill="#12323a"/>
<path d="M1516 325H1526L1531 352H1511Z" fill="#f4efe9"/><path d="M1522 325H1526L1531 352H1525Z" fill="#9aa4b2"/>
<path d="M1511 343H1531V366H1511Z" fill="#fa4e17"/><path d="M1511 343L1518 340V366H1511Z" fill="#ff9a1c"/><path d="M1518 352H1531V366H1518Z" fill="#aeb7c4"/>
<path d="M1511 366H1531V462H1511Z" fill="#2d9bd8"/><path d="M1526 366H1531V462H1526Z" fill="#1b78b4"/><path d="M1513 366H1516V462H1513Z" fill="#8fd0f2"/>
<path d="M1510.500 463H1531V472A10 10 0 0 1 1510.500 472Z" fill="#0e181d"/><path d="M1511 466H1531" stroke="#ff9a1c" stroke-width="2"/><path d="M1511 469H1531" stroke="#fa4e17" stroke-width="1.500"/>
<path d="M1516 325L1519 315H1523L1526 325L1531 352V470a10.500 11 0 0 1-21 0V352Z" class="k"/>
</g>
<g clip-path="url(#mainclip)">
<!-- ===== INPOIT DATA ===== -->
<rect x="243" y="323" width="290.500" height="237" fill="#fbf4ea"/>
<path d="M243 323H533.500V560" class="k"/><path d="M243 560.500H662" class="k3"/>
<path d="M243 325H400a22 20.500 0 0 1 0 41H243Z" fill="#0e181d"/>
<text x="268" y="354" class="b w" font-size="18.500" textLength="123" lengthAdjust="spacingAndGlyphs">INPOIT DATA</text>
<text x="477" y="343" class="m" font-size="10.500" style="font-weight:700;fill:#1a2329" textLength="82" lengthAdjust="spacingAndGlyphs">Iu noacolroraiae</text>
<text x="477" y="357" class="m" font-size="10.500" style="font-weight:700;fill:#1a2329" textLength="78" lengthAdjust="spacingAndGlyphs">ertiining oneries</text>
<!-- grid -->
<g class="k15"><path d="M287 389.500H491M322 399.500H391M287 416.500H496M391 468.500H400M426 468.500H430M322 492H331M391 492H425M287 515H300M322 515H331M356 515H366"/></g>
<path d="M287 442.500H496M287 468.500H400" stroke="#aab0c4" stroke-width="1" fill="none"/>
<g class="k"><path d="M287 382V539M322.500 382V539M356.500 382V539M390.500 382V539M425.500 382V539M461.500 382V539M496 382V539"/></g>
<!-- bars -->
<rect x="297" y="506.500" width="22.500" height="32.500" fill="#fa4e17" class="o2"/>
<rect x="331" y="506.500" width="25" height="32.500" fill="#1fa57a" class="o2"/>
<rect x="366" y="479.500" width="23.500" height="59.500" fill="#fa4e17"/><rect x="366" y="479.500" width="23.500" height="27" fill="#2d9bd8"/><rect x="366" y="479.500" width="23.500" height="59.500" class="k2"/>
<rect x="401" y="454" width="24" height="85" fill="#fa4e17" class="o2"/>
<rect x="435" y="476" width="24.500" height="63" fill="#1fa57a"/><rect x="435" y="518.500" width="24.500" height="20.500" fill="#fa4e17"/><rect x="435" y="476" width="24.500" height="63" class="k2"/>
<rect x="471.500" y="403" width="24.500" height="136" fill="#1fa57a"/><rect x="471.500" y="461" width="24.500" height="78" fill="#fa4e17"/><rect x="471.500" y="403" width="24.500" height="136" class="k2"/>
<g fill="#fff" opacity=".3"><rect x="299" y="508" width="18" height="3"/><rect x="333" y="508" width="21" height="3"/><rect x="403" y="456" width="20" height="3"/><rect x="437" y="478" width="20" height="3"/><rect x="473" y="405" width="21" height="3"/></g>
<path d="M274 539H514" class="k3"/><path d="M504 513H516" class="k"/>
<g font-size="10"><text x="279" y="392.500" class="b e">4.50</text><text x="279" y="418.500" class="b e">4.39</text><text x="279" y="445" class="b e">4.R0</text><text x="279" y="471" class="b e">4.99</text><text x="279" y="495.500" class="b e">4.00</text><text x="279" y="520" class="b e">4.59</text></g>
<g font-size="10"><text x="289" y="551" class="b m">0</text><text x="327" y="551" class="m">24</text><text x="360.500" y="551" class="m">16</text><text x="396.500" y="551" class="b m">7</text><text x="431" y="551" class="b m">9</text><text x="466.500" y="551" class="b m">18</text><text x="498" y="551" class="m">Ā</text></g>
<!-- ===== middle icons ===== -->
<path d="M533.500 452.500H662M670.500 353.500H662V497" class="k"/>
<path d="M552 331L567 343.500L552 356Z" fill="#ff9a1c" class="o2"/><path d="M640 332L626 344L640 356Z" fill="#d3d5d7" stroke="#fa4e17" stroke-width="2.200" stroke-linejoin="round"/>
<text x="596" y="340" class="m" font-size="9.500" style="font-weight:700;fill:#1a2329">Maaptoil</text><text x="596" y="354" class="m" font-size="9.500" style="font-weight:700;fill:#1a2329">molıheare</text>
<path d="M575 446H646V383H575Z" class="sh" filter="url(#ds)"/>
<rect x="551" y="374.500" width="15" height="36" fill="#fa4e17" class="o"/><rect x="551" y="412.500" width="15" height="24" fill="#2d9bd8" class="o"/>
<path d="M567 373.500H636a4.500 4.500 0 0 1 4.500 4.500V433a4.500 4.500 0 0 1-4.500 4.500H582L567.500 448Z" fill="#1fa57a" class="o3"/>
<path d="M586 398H596C597 390 601 388 603 382C607 384 607 391 605 396H614C617 396 617 401 614 401C617 402 616 407 613 407C615 409 614 413 611 413C612 416 610 418 607 418H586Z" fill="#fbf1dd"/>
<path d="M565 462.500L581.500 479L565 495.500L548.500 479Z" fill="#fff3e2" class="o"/><path d="M565 467.500L576.500 479L565 490.500L553.500 479Z" fill="#ff9a1c"/><path d="M564 516.500L580.500 533L564 549.500L547.500 533Z" fill="#fff3e2" class="o"/><path d="M564 521.500L575.500 533L564 544.500L552.500 533Z" fill="#ff9a1c"/>
<path d="M565 490.500L576.500 479L572 474.500L560.500 486Z" fill="#e8800c" opacity=".6"/><path d="M564 544.500L575.500 533L571 528.500L559.500 540Z" fill="#e8800c" opacity=".6"/>
<text x="576" y="506" class="b m" font-size="7" style="text-decoration:underline">IΣΣ</text><path d="M568 508H585" class="k15" stroke-width="1"/>
<rect x="598" y="476" width="51" height="73" rx="5" class="sh" filter="url(#ds)"/>
<rect x="592" y="468.500" width="51" height="73" rx="4.500" fill="#1fa57a" class="o3"/>
<path d="M593.500 478V473a3 3 0 0 1 3-3H638.500a3 3 0 0 1 3 3V478Z" fill="#2d9bd8"/><path d="M593.500 478H641.500" class="k15"/>
<rect x="593.500" y="479" width="48" height="19" fill="#86aeb4"/><rect x="593.500" y="497" width="48" height="13" fill="#2d9bd8"/><path d="M593.500 500H641.500" stroke="#1b78b4" stroke-width="1.500"/>
<rect x="604" y="484" width="22" height="9" fill="#fa4e17"/><path d="M604 488H626" stroke="#ff9a1c" stroke-width="1.500" stroke-dasharray="3 1.500"/>
<path d="M593.500 510.500H641.500" class="k15"/>
<g stroke="#bfeedd" stroke-width="2.200" stroke-dasharray="3.500 2" fill="none"><path d="M599 518H637M601 523.500H635M599 529H637"/></g>
<!-- ===== bar chart 2 ===== -->
<g font-size="9.500"><text x="275.500" y="588" class="b m">102</text><text x="345.500" y="585" class="b m" font-size="8.500">1OOO/</text><text x="390.500" y="588" class="b m">13O4</text><text x="442.500" y="588" class="b m">7.5/W</text><text x="493.500" y="588" class="b m">1,5O£</text><text x="548" y="588" class="b m">20.56</text><text x="590" y="631" class="b m">1.S.W</text><text x="264.500" y="653" class="b m">40</text><text x="636" y="653.500" class="b m">50</text><text x="631" y="683.500" class="b">0</text><text x="262" y="684" class="b" font-size="8">E</text></g>
<path d="M638 680H643" class="k2"/>
<path d="M306 658H625" class="k15"/>
<g>
<path d="M280 647C288 646 298 645 307 641V678H280Z" fill="#fa4e17" class="o"/>
<rect x="319.500" y="629" width="24" height="49" fill="#1fa57a" class="o"/>
<rect x="355.500" y="594.500" width="20" height="83.500" fill="#0e181d"/>
<rect x="376" y="617.500" width="21.500" height="60.500" fill="#ff9a1c" class="o"/>
<rect x="403" y="600" width="20.500" height="78" fill="#0e181d"/>
<rect x="399.500" y="645" width="22.500" height="33" fill="#ff9a1c" class="o2"/>
<rect x="434.500" y="651" width="25.500" height="27" fill="#1fa57a" class="o"/>
<rect x="472.500" y="641.500" width="24.500" height="36.500" fill="#fa4e17" class="o"/>
<rect x="497" y="610" width="19.500" height="68" fill="#0e181d"/>
<rect x="517" y="642.500" width="22" height="35.500" fill="#ff9a1c" class="o"/>
<rect x="539" y="608.500" width="20" height="69.500" fill="#0e181d"/>
<rect x="559.500" y="645" width="22" height="33" fill="#2d9bd8" class="o"/>
<rect x="595" y="646" width="26" height="32" fill="#ff9a1c" class="o"/>
<g fill="#fff" opacity=".35"><rect x="321.500" y="631" width="20" height="2.500"/><rect x="378" y="619.500" width="17.500" height="2.500"/><rect x="401.500" y="647" width="18.500" height="2.500"/><rect x="436.500" y="653" width="21.500" height="2.500"/><rect x="474.500" y="643.500" width="20.500" height="2.500"/><rect x="519" y="644.500" width="18" height="2.500"/><rect x="561.500" y="647" width="18" height="2.500"/><rect x="597" y="648" width="22" height="2.500"/><rect x="282" y="649" width="3" height="27"/><rect x="378" y="619.500" width="3" height="57"/><rect x="519" y="644.500" width="3" height="32"/><rect x="597" y="648" width="3" height="28"/></g>
</g>
<path d="M270 679.500H622V689C622 693 618 696 610 696H280C274 696 270 693 270 689Z" fill="#fbf4ea"/><path d="M269.500 678H622.500" class="k3"/>
<circle cx="272" cy="625" r="12" class="sh" filter="url(#ds)"/>
<circle cx="269.500" cy="622" r="11.500" fill="#2d9bd8" class="o"/><path d="M261 619A9 9 0 0 1 270 613" stroke="#8fd0f2" stroke-width="2" fill="none"/><circle cx="289" cy="628" r="2.200" fill="#0e181d"/>
<path d="M310 592H316a5 5 0 0 1 5 5V606a5 5 0 0 1-5 5H310Z" fill="#1fa57a" class="o2"/><path d="M321 601.500H337" class="k"/><circle cx="314" cy="601" r="2.500" fill="none" stroke="#0c5a42" stroke-width="1.200"/>
<path d="M459 602H468C474 604 478 608 479 612C478 616 474 620 468 622H459Z" fill="#1fa57a" class="o2"/><path d="M442 613.500H459" class="k"/><path d="M463 609V615M467 609V615M471 610V614" stroke="#0c5a42" stroke-width="1.200"/>
<path d="M499 599H508M546 596H553" class="k" stroke-width="3"/>
<circle cx="592" cy="594" r="8" fill="none" stroke="#fa4e17" stroke-width="4"/><rect x="594" y="590" width="10" height="12" rx="2" fill="#fa4e17" stroke="#c92f0c" stroke-width="1"/><path d="M590 594H598" class="k15"/>
<path d="M634 609L645 620L634 631L623 620Z" fill="#fa4e17" class="o2"/><path d="M645 620H652" stroke="#ff9a1c" stroke-width="3"/><path d="M627 620L634 613" stroke="#ffb08c" stroke-width="1.500"/>
<path d="M633 575v4M633 585v4M626 582h4M636 582h4" stroke="#fa4e17" stroke-width="2" stroke-linecap="round"/>
</g>
<g clip-path="url(#mainclip)">
<!-- ===== ENGAGEMENT RATA ===== -->
<path d="M243 954V722a26 26 0 0 1 26-26H637a24 24 0 0 1 24 24V954Z" fill="#fbf4ea"/>
<path d="M244 930V722a26 26 0 0 1 26-26H637a24 24 0 0 1 24 24V954" class="k"/>
<text x="452.500" y="721" class="b m" font-size="15.500" textLength="166" lengthAdjust="spacingAndGlyphs" style="fill:#14163a">ENGAGEMENT RATA</text>
<path d="M259 734H307M593 734H650" class="k2"/>
<text x="451" y="737.500" class="b m" font-size="9.500" textLength="270" lengthAdjust="spacingAndGlyphs" style="fill:#1a2329">apovıııneɒ poniciırtirge Ipoɾʀnapenti ɒʀoʜ oing penyɩbotis</text>
<!-- red bubble -->
<path d="M283 774H350a22 22 0 0 1 10 42l10 8H283a24 24 0 0 1 0-50Z" class="shc" filter="url(#ds3)" transform="translate(6 8)"/>
<path d="M294 760.500H334a24 23.700 0 0 1 18 39.500L362 810.500L340 808H294a24 23.700 0 0 1 0-47.500Z" fill="#fa4e17" class="o3"/>
<path d="M340 808L352 800L362 810.500Z" fill="#0e181d"/>
<text x="314" y="790" class="b w m" font-size="20">6,96</text><text x="313" y="801" class="b w m" font-size="9">Ş</text>
<!-- 7 -->
<rect x="277" y="846" width="47" height="44" rx="10" class="shc" filter="url(#ds3)"/>
<rect x="271.500" y="839.500" width="46.500" height="43.500" rx="10" fill="#0e181d" stroke="#0e181d" stroke-width="3"/>
<rect x="274.500" y="842" width="40.500" height="36" rx="8" fill="none" stroke="#56626b" stroke-width="1.500"/>
<text x="294.500" y="870" class="b w m" font-size="25">7</text>
<path d="M330 854.500H368M332 869.500H353M332 874H362" stroke="#0e181d" stroke-width="1.800" stroke-dasharray="2 1.700" fill="none"/>
<!-- A -->
<rect x="312" y="913" width="31" height="26" rx="5" class="shc" filter="url(#ds3)"/>
<rect x="308" y="908" width="31" height="26" rx="5" fill="#0e181d" stroke="#0e181d" stroke-width="2.500"/>
<text x="323.500" y="926.500" class="b w m" font-size="12">A,</text>
<path d="M257 919.500H298M351 919.500H369" stroke="#0e181d" stroke-width="1.800" stroke-dasharray="2 1.700" fill="none"/>
<!-- phone -->
<rect x="389" y="762" width="149" height="170" rx="9" class="shc" filter="url(#ds3)"/>
<path d="M392 752H520a10 10 0 0 1 10 10V916L522 924.500H392a10 10 0 0 1-10-10V762a10 10 0 0 1 10-10Z" fill="#fcf5ec"/>
<path d="M525 760V918L519 923" stroke="#b9c0ca" stroke-width="4" fill="none"/>
<path d="M427 763H482" class="k" stroke-width="3"/>
<rect x="383.500" y="778.500" width="145" height="41" fill="#2d9bd8"/>
<rect x="383.500" y="819.500" width="41" height="40.500" fill="#fa4e17"/><rect x="424.500" y="819.500" width="49" height="40.500" fill="#1fa57a"/><rect x="473.500" y="819.500" width="55" height="40.500" fill="#0e181d"/>
<rect x="383.500" y="860" width="90" height="40.500" fill="#2d9bd8"/><rect x="473.500" y="860" width="55" height="40.500" fill="#0e181d"/>
<path d="M383.500 819.500H528.500M383.500 860H528.500M383.500 900.500H528.500" stroke="#0e181d" stroke-width="1.800"/>
<g font-size="12"><text x="411" y="807" class="b w m">36,</text><text x="452" y="807" class="b w m">2.9%</text><text x="500" y="807" class="b w m">2.8in</text>
<text x="408" y="846" class="b w m">6.Rc,</text><text x="451" y="846" class="b w m">S.N₀i</text><text x="500" y="846" class="b w m">3.4%</text>
<text x="411" y="887" class="b w m">4.8i%</text><text x="452" y="887" class="b w m">8.6%</text><text x="500" y="887" class="b w m">6.R%</text></g>
<rect x="382" y="752" width="148" height="172.500" rx="10" class="k3"/>
<!-- donut icon -->
<circle cx="601" cy="791" r="31" class="shc" filter="url(#ds3)"/>
<circle cx="596" cy="784.500" r="24" fill="none" stroke="#fa4e17" stroke-width="15"/>
<path d="M613.500 768A24 24 0 0 1 612 802" fill="none" stroke="#1fa57a" stroke-width="15"/>
<path d="M579 801A24 24 0 0 0 610 804" fill="none" stroke="#ff8a1c" stroke-width="6" transform="translate(0 4)" opacity=".7"/>
<circle cx="596" cy="784.500" r="16.500" fill="#d3d5d7" class="o"/><circle cx="596" cy="784.500" r="31.500" class="k"/>
<path d="M597 753V768M567 778L580 781M618 762L609 773M622 802L610 795M594 816L595 801" class="k2"/>
<!-- text -->
<g font-size="12" style="font-weight:700"><text x="594" y="849" class="m" textLength="86" lengthAdjust="spacingAndGlyphs">Nonnonvspoile</text><text x="594" y="865" class="m" textLength="107" lengthAdjust="spacingAndGlyphs">denρws bεote ɒaile</text><text x="594" y="881" class="m" textLength="72" lengthAdjust="spacingAndGlyphs">ɢuaʈ ɯɛwsie.</text><text x="594" y="897" class="m" textLength="72" lengthAdjust="spacingAndGlyphs">aropaierivene</text><text x="594" y="913" class="m" textLength="70" lengthAdjust="spacingAndGlyphs">sio colne ɯıe</text><text x="594" y="929" class="m" textLength="64" lengthAdjust="spacingAndGlyphs">enyonılnes.</text></g>
</g>
<g clip-path="url(#mainclip)">
<!-- ===== center donut pie ===== -->
<ellipse cx="974.8" cy="509.5" rx="109.3" ry="106.6" class="sh" filter="url(#ds)"/>
<path d="M969.8 501.5L969.8 398.9A105.3 102.6 0 0 1 1071.9 476.3Z" fill="#ff9a1c" stroke="#0e181d" stroke-width="2.5" stroke-linejoin="round"/>
<path d="M969.8 501.5L1071.9 476.3A105.3 102.6 0 0 1 1046.2 572.1Z" fill="#2d9bd8" stroke="#0e181d" stroke-width="2.5" stroke-linejoin="round"/>
<path d="M969.8 501.5L1046.2 572.1A105.3 102.6 0 0 1 923.1 593.5Z" fill="#1fa57a" stroke="#0e181d" stroke-width="2.5" stroke-linejoin="round"/>
<path d="M969.8 501.5L923.1 593.5A105.3 102.6 0 0 1 868.6 529.8Z" fill="#ff9a1c" stroke="#0e181d" stroke-width="2.5" stroke-linejoin="round"/>
<path d="M969.8 501.5L868.6 529.8A105.3 102.6 0 0 1 890.3 434.2Z" fill="#fa4e17" stroke="#0e181d" stroke-width="2.5" stroke-linejoin="round"/>
<path d="M969.8 501.5L890.3 434.2A105.3 102.6 0 0 1 969.8 398.9Z" fill="#0e181d" stroke="#0e181d" stroke-width="2.5" stroke-linejoin="round"/>
<ellipse cx="969.8" cy="501.5" rx="105.3" ry="102.6" fill="none" stroke="#0e181d" stroke-width="3.5"/>
<path d="M895.4 434.0A101.7 99.0 0 0 1 966.3 402.6" stroke="#f4f6f8" stroke-width="2" fill="none"/><path d="M871.1 525.5A101.7 99.0 0 0 1 890.8 439.2" stroke="#ffb08c" stroke-width="1.500" fill="none" opacity=".7"/>
<circle cx="969.5" cy="503.400" r="38.500" fill="#b9bec4" stroke="#0e181d" stroke-width="2.500"/>
<path d="M931 503.400H1008M969.500 465V542" stroke="#e9ecef" stroke-width="3"/>
<circle cx="969.5" cy="503.400" r="30.500" fill="#fcf6ee" stroke="#0e181d" stroke-width="2.500"/>
<!-- pie labels -->
<g font-size="10.500">
<text x="937" y="433" class="b w m">88:8⁴,</text><text x="938" y="446" class="b w m">0ρ·S</text>
<text x="1015" y="447" class="b m" style="fill:#ffe45c">6½,</text><text x="1015" y="460" class="b m" style="fill:#ffe45c">ʃʀ,·0</text>
<text x="901" y="481" class="b m" style="fill:#ffe9a6">A,δa,</text><text x="902" y="495" class="b m" style="fill:#ffe9a6">09.0</text>
<text x="1039" y="521" class="b m" style="fill:#eaf6ff">2.2'6ₒ</text><text x="1039" y="536" class="b m" style="fill:#eaf6ff">30:'ʃ6</text>
<text x="908" y="546" class="b m" style="fill:#ffe45c">Sbℓ₀</text><text x="908" y="560" class="b m" style="fill:#ffe45c">18⁄₂0</text>
<text x="970" y="570" class="b m" style="fill:#e4fff2">4M,</text><text x="971" y="583" class="b m" style="fill:#e4fff2">10ʔ.0</text>
</g>
<!-- STEPS bubble -->
<path d="M695 334H796a18 18 0 0 1 18 18V394a18 18 0 0 1-18 18H796L788 432L776 412H695a18 18 0 0 1-18-18V352a18 18 0 0 1 18-18Z" class="sh" filter="url(#ds)" transform="translate(4 5)"/>
<path d="M694.500 325.500H794.500a18 18 0 0 1 18 18V392a18 18 0 0 1-18 18H791L783 429L772 410H694.500a18 18 0 0 1-18-18V343.500a18 18 0 0 1 18-18Z" fill="#fbf5ec" class="o"/>
<text x="746" y="351.500" class="b m" font-size="15" textLength="52" lengthAdjust="spacingAndGlyphs">STEPS</text>
<text x="746" y="367" class="m t" textLength="108" lengthAdjust="spacingAndGlyphs">anfontent nmıngrtie</text>
<text x="746" y="382.500" class="m t" textLength="109" lengthAdjust="spacingAndGlyphs">aınrpintrıog atεas son</text>
<text x="746" y="397.500" class="m t" textLength="93" lengthAdjust="spacingAndGlyphs">fnturoεdonıvuεonn..</text>
<text x="927.500" y="348" class="m" font-size="11.500" style="font-weight:700;fill:#1a2329" textLength="168" lengthAdjust="spacingAndGlyphs">Einoperokn popoolıncad of</text>
<text x="934" y="364" class="m" font-size="11.500" style="font-weight:700;fill:#1a2329" textLength="146" lengthAdjust="spacingAndGlyphs">Lae mnomeomge Inosses</text>
<!-- 48 bubble -->
<path d="M1034 329.500H1080.500a12 12 0 0 1 12 12V362.500a12 12 0 0 1-12 12H1058L1069 391L1046 374.500H1034a12 12 0 0 1-12-12V341.500a12 12 0 0 1 12-12Z" fill="#0e181d"/>
<text x="1050" y="360" class="b w m" font-size="20">48</text><path d="M1066 347H1072M1066 352H1072" stroke="#fff" stroke-width="2"/>
<!-- gauge -->
<circle cx="766" cy="501" r="56" class="sh" filter="url(#ds)"/>
<circle cx="761.500" cy="495" r="54" fill="#fbf5ec"/>
<path d="M761.500 549A54 54 0 0 1 708 503L720 500A42 42 0 0 0 761.500 537Z" fill="#ff9a1c"/>
<path d="M730 539A54 54 0 0 1 709 510L721 507A42 42 0 0 0 737 529Z" fill="#fa4e17"/>
<path d="M761.500 549A54 54 0 0 0 815 503L803 500A42 42 0 0 1 761.500 537Z" fill="#1fa57a"/>
<path d="M764 544A49 49 0 0 0 810 504" stroke="#12323a" stroke-width="3" fill="none"/>
<path d="M815 503A54 54 0 0 0 800 457L791 466A42 42 0 0 1 803 500Z" fill="#2d9bd8"/>
<path d="M800 457A54 54 0 0 0 761.500 441V453A42 42 0 0 1 791 466Z" fill="#142330"/>
<path d="M766 447A48 48 0 0 1 795 461" stroke="#8fa0ad" stroke-width="2.500" stroke-dasharray="2 2.500" fill="none"/>
<path d="M761.500 441V549" class="k2"/>
<circle cx="761.500" cy="495" r="54" class="k3"/>
<circle cx="761.500" cy="495" r="42.500" fill="#0e181d"/>
<text x="761.500" y="501" class="b w m" font-size="32" letter-spacing="-1">96</text><path d="M725 495H737M783 495H795" stroke="#fff" stroke-width="3"/>
<text x="761.500" y="517" class="b w m" font-size="13" letter-spacing=".5">OFE</text>
<path d="M662 497H694" class="k2"/><path d="M690 491.500L698 497L690 502.500Z" fill="#0e181d"/>
<circle cx="694" cy="446.500" r="9" fill="#d8ecf8" stroke="#2d9bd8" stroke-width="3"/><text x="694" y="450.500" class="b m" font-size="9" style="fill:#12323a">(ɑ)</text>
<circle cx="675.500" cy="448" r="2" fill="#0e181d"/><path d="M706 450H714" class="k3"/>
<text x="690" y="537" class="b m" font-size="9" style="fill:#2a343c">ɔDG</text><text x="690" y="547" class="b m" font-size="9" style="fill:#2a343c">ʀtɛrn</text>
<!-- red circle -->
<circle cx="837" cy="448" r="18" class="sh" filter="url(#ds)"/>
<circle cx="833" cy="441.500" r="16.500" fill="#fa4e17" class="o"/><path d="M822 434A14 14 0 0 1 840 430" stroke="#ff9a5c" stroke-width="3" fill="none"/>
<text x="833" y="449" class="b m" font-size="14" style="fill:#fff3e2">ʂ</text><path d="M825 450C830 446 838 452 843 447" stroke="#fff3e2" stroke-width="2" fill="none"/>
<path d="M850 449L872 462" class="k2"/>
<!-- arrows between gauge and pie -->
<g class="k2"><path d="M829 479.500H855M829 497H855M829 514.500H855M829 531.500H855"/><path d="M850 475.500L855 479.500L850 483.500M834 493L829 497L834 501M850 510.500L855 514.500L850 518.500"/></g>
<circle cx="829" cy="531.500" r="2" fill="#0e181d"/>
<!-- labels around -->
<g font-size="11.500"><text x="872" y="387" class="b m">3SR.02</text><text x="845" y="401" class="b m">81.8o</text><text x="870" y="417" class="b m">S8</text><text x="1041" y="398" class="b m">S3</text><text x="1066" y="415" class="b m">1O.</text><text x="1079" y="445" class="b m" font-size="13">6.M</text><text x="818" y="566" class="b m" font-size="12.500">3.0%</text><text x="854" y="582" class="b m">S8</text><text x="893" y="613" class="b m" font-size="12.500">3.Ωa</text><text x="1046" y="613" class="b m" font-size="12.500">2.8c</text></g>
<g class="k2">
<path d="M938.500 402L933.500 382"/><path d="M969.500 400V380"/><path d="M1000.500 402L1005.500 382"/>
<path d="M876 418L894 438"/><path d="M1038 402C1036 410 1030 416 1026 419"/><path d="M1090 441C1100 440 1110 436 1117 430"/>
<path d="M1140.500 342L1077.500 406"/>
<path d="M838 561C846 556 854 550 862 542"/><path d="M862 578L880 560"/>
<path d="M924 637C926 626 931 615 937 605M927 613L936 607L936 618"/><path d="M1016 637C1013 626 1007 615 1000 606M1000 617L1000 606L1010 611"/><path d="M913 594L909 601M1024 594L1029 602M969.500 605V611"/>
<path d="M1062 560L1083 576"/><path d="M1078 528C1086 536 1092 540 1102 544"/>
</g>
<path d="M926.500 386.500L931.500 374L939.500 383.500ZM963.500 384L969.500 371L975.500 384ZM999.500 383.500L1007.500 374L1012.500 386.500Z" fill="#0e181d"/><path d="M902 401L911 413" class="k2"/><path d="M1078 415L1048 445" stroke="#0e181d" stroke-width="1.800" stroke-dasharray="2 3" fill="none"/>
<path d="M1121.500 357l5 5l-5 5l-5-5Z" fill="#0e181d"/><circle cx="1077" cy="406.500" r="2" fill="#0e181d"/>
<path d="M892 577L853 618M1049 578L1091 629" stroke="#0e181d" stroke-width="2.200" stroke-dasharray="2.200 2.800" fill="none"/><circle cx="1089" cy="631" r="2.500" fill="#0e181d"/><text x="1066" y="632" class="b m" font-size="8">ɷ</text>
<path d="M898.500 389.500L904.500 393V399L898.500 402.500L892.500 399V393Z" fill="#d8ecf8" stroke="#2d9bd8" stroke-width="2"/><text x="898.500" y="398.500" class="b m" font-size="7">&#9670;</text>
<!-- arrows right of pie -->
<g class="k2"><path d="M1080 467L1105 464M1085 481H1121M1085 498H1132M1086 514.500H1121M1132 466H1151M1139 508H1152"/><path d="M1086 462L1079 467.500L1086 471M1091 477L1084.500 481L1091 485M1091 494L1084.500 498L1091 502M1092 510.500L1085.500 514.500L1092 518.500"/></g>
<path d="M1119 461l4 4.500l-4 4.500l-4-4.500ZM1133 461l5 5l-5 5l-5-5ZM1133 493l5 5l-5 5l-5-5ZM1130 510l5 4.500l-5 4.500l-5-4.500Z" fill="#0e181d"/><circle cx="1183" cy="459" r="2.500" fill="#0e181d"/>
<text x="1180" y="549" class="b m" font-size="9">&#9830;</text>
<text x="1098" y="578" class="b m" font-size="13">ɞ</text>
<!-- fox -->
<path d="M1131.500 392C1131 377 1137 372.500 1148 372.500C1159 372.500 1164.500 377 1164 392Z" fill="#0e181d"/>
<path d="M1136 381.500A13 7.500 0 0 1 1159 380.500" stroke="#f4f6f8" stroke-width="1.500" fill="none" stroke-linecap="round"/>
<ellipse cx="1147.800" cy="415.200" rx="34.800" ry="29" fill="#0e181d"/>
<path d="M1116 400L1123 406M1170.500 406L1177.500 400" stroke="#fff" stroke-width="1.800" stroke-linecap="round"/><path d="M1120 408A24 24 0 0 0 1121 421" stroke="#e9ecef" stroke-width="1.500" fill="none" stroke-linecap="round"/>
<circle cx="1135.500" cy="394" r="5.800" fill="#fa6a1c"/><circle cx="1136" cy="395" r="3" fill="#c92f0c"/>
<circle cx="1159" cy="394" r="5.800" fill="#fa6a1c"/><circle cx="1159.500" cy="393" r="2.800" fill="#ffc24c"/>
<ellipse cx="1147.300" cy="426.500" rx="15.500" ry="13" fill="#fa4e17"/><ellipse cx="1147.300" cy="427.500" rx="8.800" ry="9" fill="#fff8f2"/>
<ellipse cx="1147.300" cy="404" rx="13" ry="12" fill="#fff5f0" stroke="#fa6a1c" stroke-width="1"/>
<ellipse cx="1142" cy="403.500" rx="3" ry="2.200" fill="#0e181d" transform="rotate(25 1142 403.500)"/><ellipse cx="1152.500" cy="403.500" rx="3" ry="2.200" fill="#0e181d" transform="rotate(-25 1152.500 403.500)"/>
<path d="M1145.500 407.500h3.500l-1.700 1.600Z" fill="#3a2a2a"/>
<text x="1177" y="380" class="b m" font-size="9.500">D&#1168;</text>
</g>
<g clip-path="url(#mainclip)">
<!-- dividers -->
<g class="k"><path d="M661.500 497V954" stroke-width="3"/><path d="M661.500 798H917"/><path d="M917 686.500V954"/><path d="M917 686.500H1197.500"/><path d="M1197.500 497V954"/></g>
<!-- ===== circle column right of pie ===== -->
<g class="k2"><path d="M1151 466H1183M1132 549H1160M1135 597L1152 586M1150 583H1183M1133 622H1183M1130 657H1183M1095 657H1108"/></g>
<circle cx="1163" cy="469" r="11.500" fill="#2d9bd8" class="o"/><circle cx="1163" cy="469" r="6" fill="#bfe3f6" stroke="#1b78b4" stroke-width="1.500"/><rect x="1160" y="466" width="6" height="6" fill="none" stroke="#1b78b4" stroke-width="1.200"/>
<circle cx="1166" cy="507.500" r="14" class="sh" filter="url(#ds)"/>
<circle cx="1166" cy="506.500" r="13.500" fill="#2d9bd8" class="o"/><path d="M1163 510A5 5 0 1 0 1168 503" stroke="#12323a" stroke-width="2" fill="none"/><path d="M1156 500A11 11 0 0 1 1166 495" stroke="#8fd0f2" stroke-width="2" fill="none"/>
<circle cx="1120" cy="549" r="16.500" fill="#fa4e17" class="o3"/><path d="M1108 543A14 14 0 0 1 1132 543Z" fill="#0e181d"/><path d="M1112 558L1121 544L1128 551L1120 553L1126 559Z" fill="#fff5ee"/>
<circle cx="1163" cy="549" r="10.500" fill="#2d9bd8" class="o"/><circle cx="1163" cy="549" r="5" fill="none" stroke="#bfe3f6" stroke-width="1.500"/><text x="1163" y="552.500" class="b m" font-size="8" style="fill:#0f4a78">@</text>
<circle cx="1162" cy="583" r="12" fill="#fa4e17" class="o"/><circle cx="1162" cy="583" r="6.500" fill="#ff7a4c" stroke="#c92f0c" stroke-width="1.200"/><path d="M1158 587L1166 579M1166 579h-4M1166 579v4" stroke="#fff" stroke-width="1.500" fill="none"/>
<circle cx="1117" cy="597" r="16" fill="#ff9a1c" class="o3"/><circle cx="1117" cy="597" r="11" fill="none" stroke="#ffc24c" stroke-width="2"/><path d="M1109 594L1120 590L1114 598L1122 601Z" fill="#0e181d"/>
<circle cx="1161.500" cy="622" r="12" fill="#2d9bd8" class="o"/><circle cx="1161.500" cy="622" r="5" fill="none" stroke="#eef6fb" stroke-width="3"/>
<text x="1116" y="632" class="b m" font-size="11">41ƒ$</text>
<circle cx="1119" cy="657.500" r="12" fill="#ff9a1c" class="o"/><circle cx="1119" cy="657" r="5" fill="#fa6a1c" stroke="#a84a0a" stroke-width="1.500"/>
<circle cx="1085" cy="658.500" r="12" fill="#ff9a1c" class="o"/><circle cx="1085" cy="658.500" r="5" fill="#ffc24c" stroke="#a84a0a" stroke-width="1.500"/><path d="M1082.500 659h5" stroke="#fa4e17" stroke-width="2"/>
<circle cx="1160" cy="657.500" r="12" fill="#2d9bd8" class="o"/><circle cx="1160" cy="657.500" r="5.500" fill="#eef6fb"/><circle cx="1160" cy="657.500" r="2" fill="#0f4a78"/>
<path d="M1051.500 658H1073" class="k2"/>
<!-- TRE, 8,85 -->
<rect x="890.500" y="638" width="63" height="35.500" rx="10" fill="#0e181d"/><text x="922" y="663" class="b w m" font-size="19.500">TRE</text>
<rect x="985.500" y="636.500" width="66" height="38" rx="14" fill="#0e181d"/><text x="1018.500" y="663" class="b w m" font-size="19.500">8,85</text>
<path d="M969.500 618V658" class="k2"/><path d="M965 626L969.500 615L974 626ZM963.500 655L969.500 665L975.500 655Z" fill="#0e181d"/>

<!-- ===== big pen ===== -->
<path d="M686 580L710 580L712 760L690 770Z" class="sh" filter="url(#ds)" transform="translate(5 4)"/>
<path d="M679.500 585a12.500 28 0 0 1 25 0V756a12.500 13 0 0 1-25 0Z" fill="#1fa57a"/>
<path d="M679.500 585a12.500 28 0 0 1 25 0V572H679.500Z" fill="#fbf5ec"/><path d="M680 572a12 16 0 0 1 24 0Z" fill="#fbf5ec"/>
<rect x="679.500" y="572" width="25" height="41" fill="#fa4e17"/><rect x="681" y="572" width="5" height="41" fill="#ff9a1c"/>
<rect x="679.500" y="613" width="7" height="109" fill="#12323a"/><path d="M688 616V720" stroke="#2d9bd8" stroke-width="1.500" stroke-dasharray="2 3"/>
<rect x="679.500" y="721" width="25" height="7" fill="#0e181d"/><rect x="679.500" y="728" width="25" height="26" fill="#2d9bd8"/><rect x="681" y="728" width="5" height="26" fill="#8fd0f2"/>
<path d="M679.500 753H704.500V757a12.500 12.500 0 0 1-25 0Z" fill="#0e181d"/>
<path d="M679.500 585a12.500 29 0 0 1 25 0V756a12.500 13 0 0 1-25 0Z" class="k3"/>
<rect x="702.500" y="585" width="6.500" height="93" rx="2" fill="#ff9a1c" class="o2"/>
<path d="M689 775a3 3 0 1 0 4 0l-2-4Z" fill="#3bb8c4"/>

<!-- pencil 2 -->
<path d="M745 600L768 600L768 712L756 732Z" class="sh" filter="url(#ds)" transform="translate(5 4)"/>
<path d="M741 600a10.500 12 0 0 1 21 0V708L751.500 727L741 708Z" fill="#fa4e17"/>
<path d="M741 601a10.500 12.500 0 0 1 21 0Z" fill="#fbf5ec"/><rect x="741" y="601" width="21" height="24" fill="#2d9bd8"/><rect x="742.500" y="601" width="4" height="24" fill="#8fd0f2"/>
<rect x="742.500" y="625" width="4" height="84" fill="#ff9a1c"/><rect x="756" y="625" width="5" height="84" fill="#d8320f"/>
<path d="M744 713L751.500 727L759 713Z" fill="#0e181d"/>
<path d="M741 600a10.500 12 0 0 1 21 0V708L751.500 727L741 708Z" class="k3"/><path d="M741 601H762M741 625H762" class="k15"/>
<text x="751" y="580" class="b m" font-size="8" style="fill:#3a444c">1OO4I</text>
<path d="M723 597V640M719.500 603L723 593L726.500 603" class="k2"/><path d="M723 640V795" stroke="#0e181d" stroke-width="1.500" stroke-dasharray="2 2.500"/>
<path d="M723 628l4 5l-4 4l-4-4Z" fill="#d8f1fb"/><circle cx="723" cy="634" r="2" fill="#2d9bd8"/>
<!-- key ring -->
<circle cx="816" cy="621" r="23" class="sh" filter="url(#ds)"/>
<path d="M807 642H822V700C822 708 818 716 812 718C814 706 806 700 807 690Z" fill="#eef1f3" class="o"/><path d="M817 644V706C820 704 821 700 821 696V644Z" fill="#9aa4b2"/>
<path d="M808 652h5M808 660h4M808 668h5M808 676h4M808 684h5" class="k15"/>
<circle cx="813" cy="616" r="19" fill="#dcdcdc" stroke="#0e181d" stroke-width="10.500"/><circle cx="813" cy="616" r="19" fill="none" stroke="#fa4e17" stroke-width="6"/>
<path d="M800 602A19 19 0 0 1 822 599" stroke="#ff9a5c" stroke-width="2" fill="none"/>
<!-- vertical lines -->
<g class="k2"><path d="M776 587V763M791.500 648.500V783M807 716V783M822.500 716V783M839 653V783M855 625V760M872 618V683"/></g>
<path d="M867 680l5 7l5-7Z" fill="#0e181d"/><path d="M888 680l8 5l-8 4Z" fill="#0e181d"/><path d="M899 684h8" class="k" stroke-dasharray="3 2"/>
<path d="M729 685H866" stroke="#56626b" stroke-width="1" stroke-dasharray="4 2" fill="none"/>
<path d="M855 617l5 4l-5 5l-5-5Z" fill="#f4efe9"/>
<path d="M791.500 728l6 4l-6 7l-6-7Z" fill="#fff5ee"/><path d="M788.500 732h6l-3 4Z" fill="#fa4e17"/>
<path d="M839 718l6 4l-6 7l-6-7Z" fill="#fff5ee"/><circle cx="839" cy="723" r="2.500" fill="#2d9bd8"/>
<rect x="851" y="756" width="9" height="7" fill="#fff5ee"/><rect x="771" y="758" width="10" height="6" fill="#fff5ee"/>
<!-- small icons -->
<path d="M751 757c-9-6-12-11-9-15c3-3 7-2 9 2c2-4 6-5 9-2c3 4 0 9-9 15Z" fill="#eaf6ff" stroke="#2d9bd8" stroke-width="2.200"/><path d="M746 745l5 6l5-6" stroke="#12323a" stroke-width="1.500" fill="none"/>
<circle cx="754" cy="774.500" r="9" fill="#fa4e17" class="o"/><circle cx="754" cy="774.500" r="3.500" fill="#ff9a5c"/><path d="M763 774.500H776V763" class="k2"/>
<circle cx="884.500" cy="715" r="12.500" fill="#d3d5d7" class="o"/><circle cx="884.500" cy="715" r="8.500" class="k15"/><text x="884.500" y="719" class="b m" font-size="10">ɷ</text>
<circle cx="884.500" cy="771.500" r="12.500" fill="#d3d5d7" class="o"/><circle cx="884.500" cy="771.500" r="8.500" class="k15"/><path d="M880 771l4-4l2 3l4-1l-3 5l-5 1Z" fill="#0e181d"/>
<text x="883" y="746" class="b m" font-size="9" style="font-style:italic;fill:#3a444c">s.ıuys</text>
</g>
<g clip-path="url(#mainclip)">
<!-- ===== bottom-left of center: pencil + cards ===== -->
<path d="M686 826L712 826L712 926L700 946Z" class="sh" filter="url(#ds)" transform="translate(5 4)"/>
<path d="M694.500 798L680 828V918C680 934 688 942 694.500 942C701 942 710 934 710 918V828Z" fill="#fa4e17"/>
<path d="M694.500 798L680 828H710Z" fill="#e9ecef"/><path d="M694.500 798L700 810L704 828H710Z" fill="#aeb7c4"/>
<rect x="682" y="828" width="6" height="76" fill="#ff9a1c"/><rect x="703" y="828" width="6" height="76" fill="#d8320f"/>
<path d="M696 834V900" stroke="#c92f0c" stroke-width="3" stroke-dasharray="2 3"/>
<path d="M680 904H710V918C710 934 701 942 694.500 942C688 942 680 934 680 918Z" fill="#e9ecef"/><path d="M700 904H710V918C710 932 703 940 698 941Z" fill="#9aa4b2"/><path d="M684 908v20" stroke="#fff" stroke-width="2.500"/>
<path d="M694.500 798L680 828V918C680 934 688 942 694.500 942C701 942 710 934 710 918V828Z" class="k3"/><path d="M680 828H710M680 904H710" class="k15"/>
<circle cx="694.500" cy="799" r="2.500" fill="#fff" class="o2"/>
<!-- cards -->
<rect x="728" y="816" width="72" height="55" rx="3" class="sh" filter="url(#ds)"/>
<rect x="724" y="811.500" width="72" height="55" rx="3" fill="#a9aeb3" class="o3"/><path d="M735 862C735 852 745 850 753 856H794V864H735Z" fill="#9a9fa5"/><path d="M726 813.500H794V822L726 846Z" fill="#b9bec4" opacity=".7"/>
<circle cx="753.500" cy="836.500" r="19.500" fill="#0e181d"/><text x="753.500" y="845" class="b w m" font-size="23">3</text>
<circle cx="729" cy="817.500" r="5.500" fill="#fcf6ee" class="o2"/>
<rect x="780" y="822" width="4" height="7" fill="#1fa57a"/><rect x="784" y="822" width="4" height="7" fill="#fff"/>
<path d="M768 859h22" stroke="#8a8f96" stroke-width="2" stroke-dasharray="3 1.500"/>
<rect x="728" y="885" width="72" height="57" rx="3" class="sh" filter="url(#ds)"/>
<rect x="724" y="880.500" width="72" height="57" rx="3" fill="#a9aeb3" class="o3"/><path d="M735 932C735 922 745 920 753 926H794V935H735Z" fill="#9a9fa5"/><path d="M726 882.500H794V891L726 915Z" fill="#b9bec4" opacity=".7"/>
<circle cx="753.500" cy="908" r="19.500" fill="#0e181d"/><text x="753.500" y="916.500" class="b w m" font-size="23">9</text>
<circle cx="729" cy="886.500" r="5.500" fill="#fcf6ee" class="o2"/>
<rect x="780" y="892" width="4" height="7" fill="#1fa57a"/><rect x="784" y="892" width="4" height="7" fill="#fff"/>
<path d="M768 931h22M772 919h16" stroke="#8a8f96" stroke-width="2" stroke-dasharray="3 1.500"/>
<!-- connectors -->
<g class="k2"><path d="M830 823L843 820M826 833H859.500V902H845V856H831M829 922H873"/></g>
<circle cx="821.500" cy="823.500" r="9" fill="#ff8a3c" class="o"/><circle cx="821.500" cy="823.500" r="4" fill="#fff5ee"/><path d="M818 826a4 4 0 0 0 7-2" stroke="#0e181d" stroke-width="2" fill="none"/>
<rect x="842" y="813" width="18" height="12" fill="#fa4e17"/><circle cx="851" cy="819" r="3" fill="#ffd2bc"/>
<circle cx="821.500" cy="859" r="10" fill="#fff1d6" class="o"/><path d="M816 853L827 864" stroke="#e8400f" stroke-width="5" stroke-linecap="round"/><path d="M814 862a9 9 0 0 0 10 6" stroke="#ff9a1c" stroke-width="2.500" fill="none"/>
<rect x="813.500" y="894" width="15" height="12" rx="3" fill="#fa4e17" stroke="#c92f0c" stroke-width="1"/><circle cx="821" cy="900" r="2.500" fill="#ffd2bc"/>
<circle cx="821" cy="921" r="8" fill="#1fa57a" class="o"/><path d="M818 918h7M821 918v7" stroke="#eafff6" stroke-width="2.200"/>
<circle cx="888" cy="930" r="13" class="sh" filter="url(#ds)"/>
<circle cx="886" cy="927" r="13" fill="#1fa57a" class="o3"/><path d="M879 934C878 926 884 921 892 922C888 926 884 930 879 934Z" fill="#0e181d"/><path d="M877 922A11 11 0 0 1 888 916" stroke="#37c4b4" stroke-width="2" fill="none"/><path d="M892 936A11 11 0 0 0 897 928" stroke="#2d9bd8" stroke-width="2.500" fill="none"/>
<g font-size="9"><text x="821" y="886" class="b m">Oe· gu</text><text x="815" y="941" class="b m">OO·9</text><text x="850" y="941" class="b m" font-size="8">5PB</text><text x="889" y="901" class="b m" font-size="10">GSº</text></g>
<!-- icon column -->
<rect x="880" y="814" width="18" height="14" fill="#fa4e17"/><path d="M889 816l-3 5h3l-2 5" stroke="#fff" stroke-width="1.600" fill="none"/>
<path d="M880 833H898V844H888L885 848V844H880Z" fill="#2d78d0"/><text x="889" y="842" class="b w m" font-size="8">p7</text>
<rect x="880.500" y="851" width="7" height="5.500" class="k15"/><rect x="890.500" y="851" width="7" height="5.500" class="k15"/>
<rect x="880" y="859" width="18" height="13" fill="#fa6a1c"/><rect x="882" y="864" width="6" height="5" fill="none" stroke="#fff5ee" stroke-width="1.300"/><rect x="890" y="864" width="6" height="5" fill="none" stroke="#fff5ee" stroke-width="1.300"/>
<rect x="880.500" y="878" width="7" height="6.500" class="k15"/><rect x="890.500" y="878" width="7" height="6.500" class="k15"/><path d="M882 881h4M892 881h4" class="k15"/>
<!-- ===== box: shield, text, 50, bulb ===== -->
<path d="M946.500 704.500L961 710V724C961 732 954 737 946.500 740C939 737 932 732 932 724V710Z" fill="#1fa57a" class="o3"/><path d="M946.500 704.500L961 710V716L946.500 712L932 716V710Z" fill="#37c4a0"/><path d="M941 722L949 716L954 722" class="k2"/><path d="M949 716v8" class="k15"/>
<g class="k2"><path d="M984 705.500H1000V733M995 728L1000 735L1005 728M1000 755V784M995 778L1000 786L1005 778M984 783H1000"/><path d="M1082 715H1096"/></g>
<g font-size="9" style="font-weight:700"><text x="1013" y="709" textLength="55" lengthAdjust="spacingAndGlyphs">ko Auenckers</text><text x="1013" y="722" textLength="55" lengthAdjust="spacingAndGlyphs">AƞtInenastıd</text><text x="1013" y="735.500" textLength="48" lengthAdjust="spacingAndGlyphs">IʜtIɑnsɒsIs</text><text x="1013" y="762" textLength="55" lengthAdjust="spacingAndGlyphs">3oIıeεosIIεε</text><text x="1013" y="776" textLength="54" lengthAdjust="spacingAndGlyphs">ɴIεIoυεɒrɛɴg</text><text x="1013" y="789.500" textLength="52" lengthAdjust="spacingAndGlyphs">ıɴıøøɛøɛɒɛɛ</text></g>
<text x="936" y="764" class="b e" font-size="7">ɑ ɴ</text>
<circle cx="946" cy="761" r="6" fill="#fa4e17" class="o2"/><path d="M943 758a4 4 0 0 1 5-1" stroke="#ffb08c" stroke-width="1.500" fill="none"/>
<circle cx="945.500" cy="781.500" r="6" fill="#fa4e17" class="o2"/><path d="M942.500 778.500a4 4 0 0 1 5-1" stroke="#ffb08c" stroke-width="1.500" fill="none"/>
<text x="945" y="803" class="b m" font-size="8.500">S7D</text>
<circle cx="945" cy="821.500" r="7.500" fill="#2d9bd8" class="o2"/><circle cx="945" cy="821.500" r="3.500" fill="#bfe3f6"/>
<!-- 50 -->
<circle cx="1139" cy="745" r="43" class="sh" filter="url(#ds)"/>
<circle cx="1135" cy="741" r="42" fill="#0e181d"/><circle cx="1135" cy="741" r="36.500" fill="none" stroke="#fcf6ee" stroke-width="2"/>
<text x="1135" y="752" class="b w m" font-size="34" letter-spacing="-1">50</text><text x="1135" y="768" class="b w m" font-size="10.500" letter-spacing=".6">SEPS</text>
<!-- red 2 / shield -->
<path d="M935 861C934 847 958 846 958 860C958 871 940 872 940 882C940 890 954 888 955.500 880" fill="none" stroke="#0e181d" stroke-width="13" stroke-linecap="round"/>
<path d="M935 861C934 847 958 846 958 860C958 871 940 872 940 882C940 890 954 888 955.500 880" fill="none" stroke="#fa4e17" stroke-width="8" stroke-linecap="round"/>
<path d="M937 855C939 850 946 849 951 851" stroke="#ff9a1c" stroke-width="2.500" fill="none" stroke-linecap="round"/><path d="M943 887C947 888 951 886 953 882" stroke="#c92f0c" stroke-width="2" fill="none" stroke-linecap="round"/>
<path d="M947 909L954 915L962 914L960 930C957 936 952 940 947 941C942 940 937 936 934 930L932 914L940 915Z" fill="#fa4e17" class="o3"/><path d="M946 920l2 4l-1 6" class="k15"/><path d="M936 918L940 919L947 913" stroke="#ff9a1c" stroke-width="2" fill="none"/>
<!-- diagram -->
<g class="k2"><path d="M968.500 755V902H984M963 922H984M970 828.500H984V844H970M984 804V866M984 882V937H1036M1060 937H1103M1066 932L1059 937L1066 942"/><path d="M984 882H1100V937"/><path d="M997 884V932H1093V884M992 896L997 904L1002 896M1088 896L1093 904L1098 896"/><path d="M984 866H1100V804"/></g>
<path d="M992 896h10l-5 8Z" fill="#0e181d"/><path d="M1088 896h10l-5 8Z" fill="#0e181d"/>
<rect x="984" y="804" width="116" height="62" fill="#c4c8cc" class="o2"/>
<rect x="1000.500" y="806.500" width="80" height="58" fill="#ff9a1c"/><path d="M1000.500 806.500H1080.500" class="k2"/>
<text x="1018" y="842" class="b m" font-size="21" style="fill:#fff0d2">3</text><text x="1063" y="838" class="b m" font-size="23" style="fill:#fff0d2">4</text>
<ellipse cx="1056" cy="880" rx="22" ry="30" class="sh" filter="url(#ds)"/>
<path d="M1045.500 830C1062 830 1072 842 1072 856C1072 868 1064 878 1060 890V898C1060 902 1056 905 1045.500 905C1035 905 1031 902 1031 898V890C1027 878 1019 868 1019 856C1019 842 1029 830 1045.500 830Z" fill="#0e181d"/>
<path d="M1031 891H1060V898C1060 902 1056 905 1045.500 905C1035 905 1031 902 1031 898Z" fill="#fa4e17"/><path d="M1031 891H1060V895H1031Z" fill="#ff9a1c"/>
<path d="M1026 850A20 20 0 0 1 1040 836" stroke="#eef1f3" stroke-width="1.800" fill="none"/>
<!-- column right -->
<g font-size="8.500"><text x="1129" y="813" class="b m" font-size="10">M</text><text x="1129" y="842" class="b m" style="fill:#3a444c">SU</text><text x="1129" y="867" class="b m" style="fill:#3a444c">IXI</text><text x="1129" y="901" class="b m" style="fill:#3a444c">Gg</text></g>
<path d="M1123 820C1126 817 1132 817 1135 820V828H1123Z" fill="#fa4e17" stroke="#c92f0c" stroke-width="1"/>
<circle cx="1126" cy="852" r="2" fill="#ff9a1c"/><circle cx="1132" cy="852" r="2" fill="#fa4e17"/>
<circle cx="1129" cy="881.500" r="8" fill="#2d9bd8" class="o2"/><circle cx="1129" cy="881.500" r="4" fill="#bfe3f6"/>
<rect x="1121.500" y="909" width="15" height="12" fill="#2d9bd8" stroke="#1b78b4" stroke-width="1"/><rect x="1125" y="912" width="8" height="6" fill="#eaf6ff"/>
<circle cx="1125" cy="929" r="1.500" fill="#2d9bd8"/><circle cx="1131" cy="928" r="1.500" fill="#1b3c8c"/>
<path d="M1152 796C1162 789 1174 789 1184.500 796L1172 821.500C1170 825.500 1166 825.500 1164 821.500Z" fill="#0e181d" class="o2"/>
<path d="M1156.500 799.500L1168 820L1179.500 799.500" stroke="#fff5ee" stroke-width="2.300" fill="none" stroke-linejoin="round"/>
<path d="M1168 795.500C1173 798 1175 803 1173 808L1168 815L1163 808C1161 803 1163 798 1168 795.500Z" fill="#ff8a1c"/><path d="M1168 800C1171 802 1171.500 806 1168 810.500C1164.500 806 1165 802 1168 800Z" fill="#e8300f"/>
<g fill="none" stroke-linecap="round"><circle cx="1168.500" cy="853.500" r="9.500" stroke="#0e181d" stroke-width="13.500"/><circle cx="1168.500" cy="876" r="10" stroke="#0e181d" stroke-width="13.500"/><circle cx="1168.500" cy="853.500" r="9.500" stroke="#1fa57a" stroke-width="8.500"/><circle cx="1168.500" cy="876" r="10" stroke="#1fa57a" stroke-width="8.500"/>
<path d="M1159 850A10 10 0 0 1 1166 844" stroke="#5fd4b0" stroke-width="2"/><path d="M1176 884A10 10 0 0 1 1166 887" stroke="#14805e" stroke-width="2.500"/></g>
<circle cx="1168.500" cy="853.500" r="4" fill="#e9ecef"/><circle cx="1168.500" cy="876" r="4.500" fill="#e9ecef"/><path d="M1166 880a4 4 0 0 0 6-2" stroke="#0e181d" stroke-width="2" fill="none"/>
<path d="M1168 903.500L1183.500 909.500V921C1183.500 930 1176 935.500 1168 939C1160 935.500 1152.500 930 1152.500 921V909.500Z" fill="#1fa57a" class="o3"/>
<path d="M1168 903.500L1183.500 909.500V916L1168 908L1152.500 916V909.500Z" fill="#0e181d"/><path d="M1155 917L1168 910.500" stroke="#f4f6f8" stroke-width="2" fill="none"/>
<path d="M1158.500 926L1168 914L1177.500 926L1168 936Z" fill="#15c39a" opacity=".7"/><path d="M1158.500 926L1168 914L1177.500 926" stroke="#0c5a42" stroke-width="2" fill="none"/>
</g>
<g clip-path="url(#mainclip)">
<!-- ===== ANTIVENGE ===== -->
<path d="M1224 500H1522a26 26 0 0 1 26 26V707a26 26 0 0 1-26 26H1224a26 26 0 0 1-26-26V526a26 26 0 0 1 26-26Z" fill="#fbf4ea" class="o"/>
<path d="M1428.500 500V733" class="k"/>
<text x="1308.500" y="527" class="b m" font-size="15" textLength="98" lengthAdjust="spacingAndGlyphs">ANTIVENGE</text>
<text x="1300.500" y="542" class="m" font-size="9.500" style="font-weight:700;fill:#1a2329" textLength="167" lengthAdjust="spacingAndGlyphs">iımpsistnss on pootnia geavtt or</text>
<circle cx="1246" cy="582" r="20" class="shc" filter="url(#ds3)"/>
<circle cx="1242.500" cy="578" r="19.500" fill="#2d9bd8" class="o3"/><path d="M1229 570A16 16 0 0 1 1246 561" stroke="#8fd0f2" stroke-width="2.500" fill="none"/>
<text x="1242.500" y="585.500" class="b m" font-size="20" style="fill:#f4fbff">S</text>
<circle cx="1246" cy="633.500" r="20" class="shc" filter="url(#ds3)"/>
<circle cx="1242.500" cy="629.500" r="19.500" fill="#fa4e17" class="o3"/><path d="M1229 621A16 16 0 0 1 1246 612" stroke="#ff9a5c" stroke-width="2.500" fill="none"/>
<text x="1242.500" y="636" class="b m" font-size="17" style="fill:#ffe9d2">3</text>
<g font-size="10"><text x="1315" y="569.500" class="b e">S1, 9.0ɑ</text><text x="1315" y="581.500" class="b e">CO.. υo</text><text x="1315" y="593" class="b e">· · OOI</text>
<text x="1315" y="621.500" class="b e">11,4 ƒIO</text><text x="1315" y="634.500" class="b e">AQ. 1oc</text><text x="1315" y="646.500" class="b e">· - OCI</text></g>
<!-- bulb -->
<ellipse cx="1372" cy="620" rx="20" ry="34" class="shc" filter="url(#ds3)"/>
<path d="M1358 568C1374 568 1384 580 1384 593C1384 604 1376 612 1374 622H1342C1340 612 1332 604 1332 593C1332 580 1342 568 1358 568Z" fill="#0e181d"/>
<path d="M1340 598L1348 602L1352 622H1344C1343 612 1338 606 1336 600Z" fill="#1fa57a"/><path d="M1376 598L1368 602L1364 622H1372C1373 612 1378 606 1380 600Z" fill="#1fa57a"/><path d="M1352 600L1358 604L1364 600L1362 622H1354Z" fill="#14805e"/>
<path d="M1338 586A20 20 0 0 1 1352 574" stroke="#eef1f3" stroke-width="2" fill="none"/>
<path d="M1342.500 623H1373.500V636C1373.500 641 1368 645 1358 645C1348 645 1342.500 641 1342.500 636Z" fill="#f4efe9" class="o"/><path d="M1343 629H1373M1343 635H1373" class="k2"/><path d="M1366 624H1373V636C1373 640 1370 643 1366 644Z" fill="#aeb7c4"/>
<!-- pen -->
<path d="M1402 560L1416 560L1418 706L1408 722Z" class="shc" filter="url(#ds3)" transform="translate(5 3)"/>
<path d="M1405.500 543L1412 566V700L1405.500 717L1399 700V566Z" fill="#0e181d" class="o2"/>
<path d="M1405.500 543L1410.500 561H1400.500Z" fill="#ff9a5c"/><rect x="1402" y="567" width="8" height="10" fill="#2d9bd8" stroke="#8fd0f2" stroke-width="1"/>
<path d="M1402.500 580V660" stroke="#eef1f3" stroke-width="2"/><path d="M1400 660H1411V665H1400Z" fill="#eef1f3"/><path d="M1403 672V694" stroke="#8fa0ad" stroke-width="2" stroke-dasharray="2 2.500"/>
<path d="M1401 704H1410L1405.500 716Z" fill="#fa4e17"/>
<g font-size="11.500" style="font-weight:700"><text x="1301" y="677" class="m" textLength="152" lengthAdjust="spacingAndGlyphs">Soɪilo pouɪtotod olon mtyνıne</text><text x="1301" y="694" class="m" textLength="140" lengthAdjust="spacingAndGlyphs">ɒeneguınıgρdutlisamnoɒı.</text><text x="1301" y="710" class="m" textLength="163" lengthAdjust="spacingAndGlyphs">gonomεoic ɕe dal'I otlicɛnsıs..</text></g>
<text x="1485.500" y="526.500" class="b m" font-size="11" textLength="80" lengthAdjust="spacingAndGlyphs">PEREDCVINE</text>
<rect x="1446" y="539.5" width="91" height="47.5" rx="23.75" class="shc" filter="url(#ds3)"/>
<rect x="1442" y="534.5" width="91" height="47.5" rx="23.75" fill="#0e181d" stroke="#0e181d" stroke-width="2.5"/>
<path d="M1462 538.5H1513" stroke="#3a4650" stroke-width="2.500" stroke-linecap="round"/>
<text x="1487.500" y="564.75" class="b m" font-size="20" style="fill:#fff">5.5ᴘ</text>
<rect x="1446" y="605.5" width="91" height="47.0" rx="23.5" class="shc" filter="url(#ds3)"/>
<rect x="1442" y="600.5" width="91" height="47.0" rx="23.5" fill="#ff8a1c" stroke="#0e181d" stroke-width="2.5"/>
<path d="M1460 605.5H1515" stroke="#ffc24c" stroke-width="3" stroke-linecap="round" opacity=".8"/><path d="M1456 642.5H1519" stroke="#fa4e17" stroke-width="4" stroke-linecap="round" opacity=".7"/>
<text x="1487.500" y="630.5" class="b m" font-size="20" style="fill:#fff3d6">3,03</text>
<rect x="1446" y="670.5" width="91" height="48.0" rx="24.0" class="shc" filter="url(#ds3)"/>
<rect x="1442" y="665.5" width="91" height="48.0" rx="24.0" fill="#0e181d" stroke="#0e181d" stroke-width="2.5"/>
<path d="M1462 669.5H1513" stroke="#3a4650" stroke-width="2.500" stroke-linecap="round"/>
<text x="1487.500" y="696.0" class="b m" font-size="20" style="fill:#fff">6.47</text>
<!-- ===== MAKE TTHE ONSQUMES ===== -->
<path d="M1198 954V775H1548.500V924a30 30 0 0 1-30 30Z" fill="#fbf4ea"/>
<path d="M1198 781V755a15.500 15.500 0 0 1 15.500-15.500H1548.500V781Z" fill="#0e181d"/>
<text x="1220" y="765.500" class="b w" font-size="16.500" textLength="229" lengthAdjust="spacingAndGlyphs">MAKE TTHE ONSQUMES</text>
<path d="M1463 760H1522M1516 753V767" stroke="#fff" stroke-width="1.800" fill="none"/>
<rect x="1213" y="801.6" width="324" height="27.9" rx="13.9" class="shc" filter="url(#ds3)" opacity=".5"/>
<rect x="1210.500" y="796.6" width="323.500" height="27.9" rx="13.9" fill="#fbf6ef" class="o"/>
<rect x="1253" y="797.8" width="44.5" height="25.5" fill="#fa4e17"/><rect x="1253" y="799.1" width="44.5" height="3" fill="#fff" opacity=".18"/>
<rect x="1297.5" y="797.8" width="191.5" height="25.5" fill="#1fa57a"/><rect x="1297.5" y="799.1" width="191.5" height="3" fill="#fff" opacity=".18"/>
<path d="M1253 800.6H1489" stroke="#0e181d" stroke-width="0" /><path d="M1252 796.6V824.5M1490 796.6V824.5" class="k2"/><path d="M1253 822.0H1489" stroke="#0e181d" stroke-width="3" opacity=".85"/>
<text x="1231.500" y="814.5" class="b m" font-size="11">3.09.</text><text x="1511.500" y="814.5" class="b m" font-size="11">3+56</text>
<rect x="1213" y="840.2" width="324" height="28.0" rx="14.0" class="shc" filter="url(#ds3)" opacity=".5"/>
<rect x="1210.500" y="835.2" width="323.500" height="28.0" rx="14.0" fill="#fbf6ef" class="o"/>
<rect x="1253" y="836.4" width="132.7" height="25.6" fill="#fa4e17"/><rect x="1253" y="837.7" width="132.7" height="3" fill="#fff" opacity=".18"/>
<rect x="1385.7" y="836.4" width="103.3" height="25.6" fill="#1fa57a"/><rect x="1385.7" y="837.7" width="103.3" height="3" fill="#fff" opacity=".18"/>
<path d="M1253 839.2H1489" stroke="#0e181d" stroke-width="0" /><path d="M1252 835.2V863.2M1490 835.2V863.2" class="k2"/><path d="M1253 860.7H1489" stroke="#0e181d" stroke-width="3" opacity=".85"/>
<text x="1231.500" y="853.2" class="b m" font-size="11">2.98</text><text x="1511.500" y="853.2" class="b m" font-size="11">3··50</text>
<rect x="1213" y="878.0" width="324" height="27.6" rx="13.8" class="shc" filter="url(#ds3)" opacity=".5"/>
<rect x="1210.500" y="873.0" width="323.500" height="27.6" rx="13.8" fill="#fbf6ef" class="o"/>
<rect x="1253" y="874.2" width="178.0" height="25.2" fill="#1fa57a"/><rect x="1253" y="875.5" width="178.0" height="3" fill="#fff" opacity=".18"/>
<rect x="1431" y="874.2" width="58.0" height="25.2" fill="#2d9bd8"/><rect x="1431" y="875.5" width="58.0" height="3" fill="#fff" opacity=".18"/>
<path d="M1253 877.0H1489" stroke="#0e181d" stroke-width="0" /><path d="M1252 873.0V900.6M1490 873.0V900.6" class="k2"/><path d="M1253 898.1H1489" stroke="#0e181d" stroke-width="3" opacity=".85"/>
<text x="1231.500" y="890.8" class="b m" font-size="11">·25E.</text><text x="1511.500" y="890.8" class="b m" font-size="11">3:·0ʹ</text>
<rect x="1213" y="915.0" width="324" height="28.3" rx="14.1" class="shc" filter="url(#ds3)" opacity=".5"/>
<rect x="1210.500" y="910.0" width="323.500" height="28.3" rx="14.1" fill="#fbf6ef" class="o"/>
<rect x="1253" y="911.2" width="101.0" height="25.9" fill="#fa4e17"/><rect x="1253" y="912.5" width="101.0" height="3" fill="#fff" opacity=".18"/>
<rect x="1354" y="911.2" width="135.0" height="25.9" fill="#10242e"/><rect x="1354" y="912.5" width="135.0" height="3" fill="#fff" opacity=".18"/>
<path d="M1253 914.0H1489" stroke="#0e181d" stroke-width="0" /><path d="M1252 910.0V938.3M1490 910.0V938.3" class="k2"/><path d="M1253 935.8H1489" stroke="#0e181d" stroke-width="3" opacity=".85"/>
<text x="1231.500" y="928.1" class="b m" font-size="11">3+9.</text><text x="1511.500" y="928.1" class="b m" font-size="11">3:·16</text>
<rect x="1430" y="877" width="1.500" height="20" fill="#d8f1e6"/><rect x="1423" y="918" width="2.500" height="14" fill="#2db4f0"/>
</g>
<!-- main panel outline on top -->
<path d="M243 98a20 20 0 0 1 20-20H1529a20 20 0 0 1 20 20V924a30 30 0 0 1-30 30H273a30 30 0 0 1-30-30Z" fill="none" stroke="#0e181d" stroke-width="3"/>
<!-- bottom decoration -->
<g class="k"><path d="M265 968H1517" stroke-width="1.8"/><path d="M291 982.3H503" stroke-width="3"/><path d="M1271 982.3H1503" stroke-width="3"/><path d="M529 982.3H547" stroke-width="1.2"/></g>
<circle cx="249" cy="980.5" r="6" fill="#fcf4ec" stroke="#0e181d" stroke-width="3"/><circle cx="249" cy="980.5" r="1.6" fill="#0e181d"/>
<circle cx="1541.5" cy="980.8" r="6" fill="#fcf4ec" stroke="#0e181d" stroke-width="3"/><circle cx="1541.5" cy="980.8" r="1.6" fill="#0e181d"/>
<text x="549" y="986" font-size="11" textLength="690" lengthAdjust="spacingAndGlyphs" style="font-weight:700;fill:#1a2329">dnıos monurtallueing mclone Aantaofdas bnu fome husclto furte andustione muidjavtirare fiou boiumt tacl-ation un losnılentolonduuerlvon lsruko aintolone--</text>
</svg>
</body></html>
